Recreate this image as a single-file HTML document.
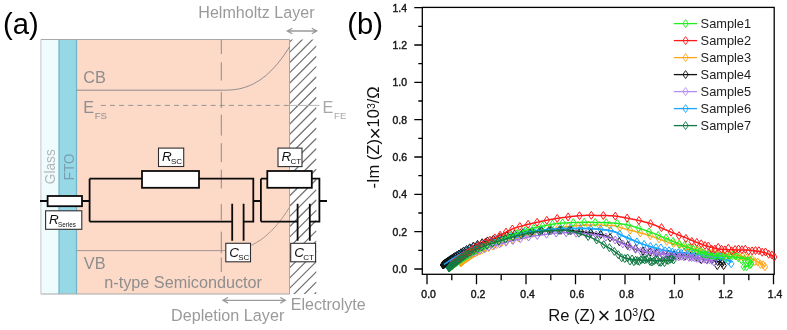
<!DOCTYPE html>
<html><head><meta charset="utf-8"><title>Figure</title>
<style>
html,body{margin:0;padding:0;background:#fff;}
body{width:787px;height:330px;overflow:hidden;}
svg{display:block;filter:blur(0.45px);font-family:"Liberation Sans",sans-serif;}
</style></head><body>
<svg width="787" height="330" viewBox="0 0 787 330">
<rect x="0" y="0" width="787" height="330" fill="#fff"/>
<g id="panel-a">
<rect x="40.9" y="39.5" width="18.1" height="254.5" fill="#effcfe"/>
<rect x="59" y="39.5" width="17.5" height="254.5" fill="#97d8e7"/>
<rect x="76.5" y="39.5" width="213.0" height="254.5" fill="#fdd9c8"/>
<clipPath id="hc"><rect x="289.5" y="39.5" width="27.0" height="254.5"/></clipPath>
<path d="M289.5 21.6L316.5 -5.4M289.5 31.9L316.5 4.9M289.5 42.1L316.5 15.1M289.5 52.4L316.5 25.4M289.5 62.7L316.5 35.7M289.5 72.9L316.5 45.9M289.5 83.2L316.5 56.2M289.5 93.4L316.5 66.4M289.5 103.7L316.5 76.7M289.5 114.0L316.5 87.0M289.5 124.2L316.5 97.2M289.5 134.5L316.5 107.5M289.5 144.7L316.5 117.7M289.5 155.0L316.5 128.0M289.5 165.3L316.5 138.3M289.5 175.5L316.5 148.5M289.5 185.8L316.5 158.8M289.5 196.0L316.5 169.0M289.5 206.3L316.5 179.3M289.5 216.6L316.5 189.6M289.5 226.8L316.5 199.8M289.5 237.1L316.5 210.1M289.5 247.3L316.5 220.3M289.5 257.6L316.5 230.6M289.5 267.9L316.5 240.9M289.5 278.1L316.5 251.1M289.5 288.4L316.5 261.4M289.5 298.6L316.5 271.6M289.5 308.9L316.5 281.9M289.5 319.2L316.5 292.2" clip-path="url(#hc)" stroke="#747474" stroke-width="1.25" fill="none"/>
<path d="M40.9 39.5H289.5V294.0H40.9" fill="none" stroke="#a8a8a8" stroke-width="1"/>
<path d="M40.9 39.5V294.0" fill="none" stroke="#c2c6ca" stroke-width="1"/>
<path d="M59 39.5V294.0M76.5 39.5V294.0" fill="none" stroke="#6fb3c6" stroke-width="1.2"/>
<path d="M76.5 90.2H222L222.0 90.2L223.7 90.2L225.5 90.2L227.2 90.1L228.9 90.1L230.7 89.9L232.4 89.8L234.1 89.6L235.8 89.4L237.6 89.1L239.3 88.8L241.0 88.4L242.8 87.9L244.5 87.4L246.2 86.9L248.0 86.2L249.7 85.5L251.4 84.8L253.2 83.9L254.9 83.0L256.6 82.0L258.3 81.0L260.1 79.9L261.8 78.6L263.5 77.3L265.3 76.0L267.0 74.5L268.7 72.9L270.5 71.3L272.2 69.6L273.9 67.7L275.7 65.8L277.4 63.8L279.1 61.7L280.8 59.5L282.6 57.2L284.3 54.8L286.0 52.2L287.8 49.6L289.5 46.9" fill="none" stroke="#8c8c8c" stroke-width="1"/>
<path d="M76.5 250.6H222L222.0 250.6L223.7 250.6L225.5 250.6L227.2 250.5L228.9 250.5L230.7 250.3L232.4 250.2L234.1 250.0L235.8 249.8L237.6 249.5L239.3 249.2L241.0 248.8L242.8 248.3L244.5 247.8L246.2 247.3L248.0 246.6L249.7 245.9L251.4 245.2L253.2 244.3L254.9 243.4L256.6 242.4L258.3 241.4L260.1 240.3L261.8 239.0L263.5 237.7L265.3 236.4L267.0 234.9L268.7 233.3L270.5 231.7L272.2 230.0L273.9 228.1L275.7 226.2L277.4 224.2L279.1 222.1L280.8 219.9L282.6 217.6L284.3 215.2L286.0 212.6L287.8 210.0L289.5 207.3" fill="none" stroke="#9a8f8a" stroke-width="0.9"/>
<line x1="100.8" y1="105.4" x2="289.5" y2="105.4" stroke="#959595" stroke-width="1" stroke-dasharray="5 4.15"/>
<line x1="289.5" y1="105.4" x2="319.5" y2="105.4" stroke="#b5b5b5" stroke-width="1"/>
<path d="M221.3 39.6V54M221.3 62.3V80.6M221.3 92V108M221.3 114.7V135.6M221.3 143.2V162.2M221.3 169.7V188.4M221.3 204V220M221.3 231.7V253.4M221.3 257.3V272" stroke="#8c8c8c" stroke-width="1" fill="none"/>
<text x="198.3" y="17.8" font-size="16.3" fill="#9a9a9a" textLength="116.2" lengthAdjust="spacingAndGlyphs">Helmholtz Layer</text>
<text x="83.2" y="82.7" font-size="16.3" fill="#8e8e8e">CB</text>
<text x="83.2" y="113" font-size="16.3" fill="#8e8e8e">E<tspan font-size="9.6" dy="6" dx="0.6">FS</tspan></text>
<text x="322.6" y="113" font-size="16.3" fill="#a8a8a8">E<tspan font-size="9.6" dy="6" dx="0.6">FE</tspan></text>
<text x="83.8" y="268.8" font-size="16.3" fill="#8e8e8e">VB</text>
<text x="104.3" y="287.6" font-size="16.3" fill="#8e8e8e" textLength="157.7" lengthAdjust="spacingAndGlyphs">n-type Semiconductor</text>
<text x="171" y="321" font-size="16.3" fill="#9a9a9a" textLength="113.3" lengthAdjust="spacingAndGlyphs">Depletion Layer</text>
<text x="290.7" y="310.2" font-size="16.3" fill="#9a9a9a" textLength="75" lengthAdjust="spacingAndGlyphs">Electrolyte</text>
<text transform="translate(54.9 184.2) rotate(-90)" font-size="14.2" fill="#b2b7b9" textLength="35" lengthAdjust="spacingAndGlyphs">Glass</text>
<text transform="translate(73.5 180.2) rotate(-90)" font-size="14.2" fill="#789fae" textLength="26.6" lengthAdjust="spacingAndGlyphs">FTO</text>
<path d="M288.3 31H315.8M292.3 28.2L287.3 31L292.3 33.8M311.8 28.2L316.8 31L311.8 33.8" fill="none" stroke="#9a9a9a" stroke-width="1.3" stroke-linejoin="miter"/>
<path d="M224 300.3H284.3M228 297.5L223 300.3L228 303.1M280.3 297.5L285.3 300.3L280.3 303.1" fill="none" stroke="#9a9a9a" stroke-width="1.3" stroke-linejoin="miter"/>
<g fill="none" stroke="#0a0a0a" stroke-width="1.8" stroke-linejoin="miter">
<path d="M40 201H47.6M82 201H89.6M89.6 178.7V221.6M89.6 178.7H142M199 178.7H253.3V221.6H243.6M232.2 221.6H89.6M232.2 203.8V240.7M243.6 203.8V240.7M253.3 201H260.9M260.9 178.7V221.6M260.9 178.7H267.3M311.8 178.7H319.4V221.6H309.8M297.6 221.6H260.9M297.6 203.8V240.7M309.8 203.8V240.7M319.4 201H327"/>
<rect x="47.6" y="196" width="34.4" height="10.2" fill="#fff"/>
<rect x="142" y="171" width="57" height="16.8" fill="#fff"/>
<rect x="267.3" y="171" width="44.5" height="16.8" fill="#fff"/>
</g>
<rect x="158.5" y="148.1" width="25.2" height="18.4" fill="#fff" stroke="#2e2e2e" stroke-width="1.1"/>
<text x="162.0" y="161.3" font-size="13.5" font-style="italic" fill="#111">R<tspan font-style="normal" font-size="8" dy="3" dx="-0.8">SC</tspan></text>
<rect x="278" y="148.1" width="24" height="18.5" fill="#fff" stroke="#2e2e2e" stroke-width="1.1"/>
<text x="281.5" y="161.4" font-size="13.5" font-style="italic" fill="#111">R<tspan font-style="normal" font-size="8" dy="3" dx="-0.8">CT</tspan></text>
<rect x="45.6" y="210.8" width="36.2" height="18.5" fill="#fff" stroke="#2e2e2e" stroke-width="1.1"/>
<text x="49.1" y="224.10000000000002" font-size="13.5" font-style="italic" fill="#111">R<tspan font-style="normal" font-size="6.3" dy="3" dx="-0.8">Series</tspan></text>
<rect x="225.8" y="243.3" width="24.7" height="18.5" fill="#fff" stroke="#2e2e2e" stroke-width="1.1"/>
<text x="229.3" y="256.6" font-size="13.5" font-style="italic" fill="#111">C<tspan font-style="normal" font-size="8" dy="3" dx="-0.8">SC</tspan></text>
<rect x="290.7" y="243.3" width="24.9" height="18.5" fill="#fff" stroke="#2e2e2e" stroke-width="1.1"/>
<text x="294.2" y="256.6" font-size="13.5" font-style="italic" fill="#111">C<tspan font-style="normal" font-size="8" dy="3" dx="-0.8">CT</tspan></text>
</g>
<text x="3.1" y="33.6" font-size="29.2" fill="#000">(a)</text>
<text x="347.2" y="33.5" font-size="29.2" fill="#000">(b)</text>
<g id="panel-b">
<rect x="422.3" y="7.4" width="351.90000000000003" height="266.90000000000003" fill="#fff" stroke="#000" stroke-width="1.3"/>
<path d="M427.0 274.3V284.3M451.8 274.3V280.3M422.3 269.0H414.3M422.3 250.3H418.3M476.5 274.3V284.3M501.2 274.3V280.3M422.3 231.7H414.3M422.3 213.0H418.3M526.0 274.3V284.3M550.8 274.3V280.3M422.3 194.3H414.3M422.3 175.7H418.3M575.5 274.3V284.3M600.2 274.3V280.3M422.3 157.0H414.3M422.3 138.3H418.3M625.0 274.3V284.3M649.8 274.3V280.3M422.3 119.7H414.3M422.3 101.0H418.3M674.5 274.3V284.3M699.2 274.3V280.3M422.3 82.4H414.3M422.3 63.7H418.3M724.0 274.3V284.3M748.8 274.3V280.3M422.3 45.0H414.3M422.3 26.4H418.3M773.5 274.3V284.3M422.3 7.7H414.3" stroke="#000" stroke-width="1.3" fill="none"/>
<text x="428.6" y="298" font-size="10.6" text-anchor="middle" fill="#1a1a1a" stroke="#1a1a1a" stroke-width="0.45" textLength="14.5" lengthAdjust="spacingAndGlyphs">0.0</text>
<text x="407" y="272.8" font-size="10.6" text-anchor="end" fill="#1a1a1a" stroke="#1a1a1a" stroke-width="0.45" textLength="14.5" lengthAdjust="spacingAndGlyphs">0.0</text>
<text x="478.1" y="298" font-size="10.6" text-anchor="middle" fill="#1a1a1a" stroke="#1a1a1a" stroke-width="0.45" textLength="14.5" lengthAdjust="spacingAndGlyphs">0.2</text>
<text x="407" y="235.5" font-size="10.6" text-anchor="end" fill="#1a1a1a" stroke="#1a1a1a" stroke-width="0.45" textLength="14.5" lengthAdjust="spacingAndGlyphs">0.2</text>
<text x="527.6" y="298" font-size="10.6" text-anchor="middle" fill="#1a1a1a" stroke="#1a1a1a" stroke-width="0.45" textLength="14.5" lengthAdjust="spacingAndGlyphs">0.4</text>
<text x="407" y="198.1" font-size="10.6" text-anchor="end" fill="#1a1a1a" stroke="#1a1a1a" stroke-width="0.45" textLength="14.5" lengthAdjust="spacingAndGlyphs">0.4</text>
<text x="577.1" y="298" font-size="10.6" text-anchor="middle" fill="#1a1a1a" stroke="#1a1a1a" stroke-width="0.45" textLength="14.5" lengthAdjust="spacingAndGlyphs">0.6</text>
<text x="407" y="160.8" font-size="10.6" text-anchor="end" fill="#1a1a1a" stroke="#1a1a1a" stroke-width="0.45" textLength="14.5" lengthAdjust="spacingAndGlyphs">0.6</text>
<text x="626.6" y="298" font-size="10.6" text-anchor="middle" fill="#1a1a1a" stroke="#1a1a1a" stroke-width="0.45" textLength="14.5" lengthAdjust="spacingAndGlyphs">0.8</text>
<text x="407" y="123.5" font-size="10.6" text-anchor="end" fill="#1a1a1a" stroke="#1a1a1a" stroke-width="0.45" textLength="14.5" lengthAdjust="spacingAndGlyphs">0.8</text>
<text x="676.1" y="298" font-size="10.6" text-anchor="middle" fill="#1a1a1a" stroke="#1a1a1a" stroke-width="0.45" textLength="14.5" lengthAdjust="spacingAndGlyphs">1.0</text>
<text x="407" y="86.2" font-size="10.6" text-anchor="end" fill="#1a1a1a" stroke="#1a1a1a" stroke-width="0.45" textLength="14.5" lengthAdjust="spacingAndGlyphs">1.0</text>
<text x="725.6" y="298" font-size="10.6" text-anchor="middle" fill="#1a1a1a" stroke="#1a1a1a" stroke-width="0.45" textLength="14.5" lengthAdjust="spacingAndGlyphs">1.2</text>
<text x="407" y="48.8" font-size="10.6" text-anchor="end" fill="#1a1a1a" stroke="#1a1a1a" stroke-width="0.45" textLength="14.5" lengthAdjust="spacingAndGlyphs">1.2</text>
<text x="775.1" y="298" font-size="10.6" text-anchor="middle" fill="#1a1a1a" stroke="#1a1a1a" stroke-width="0.45" textLength="14.5" lengthAdjust="spacingAndGlyphs">1.4</text>
<text x="407" y="11.5" font-size="10.6" text-anchor="end" fill="#1a1a1a" stroke="#1a1a1a" stroke-width="0.45" textLength="14.5" lengthAdjust="spacingAndGlyphs">1.4</text>
<text x="548.2" y="320.5" font-size="16.6" fill="#111">Re (Z)<tspan dx="2.2" dy="2.6" font-size="22">×</tspan><tspan dx="3.6" dy="-2.6">10</tspan><tspan font-size="10.5" dy="-4.6">3</tspan><tspan dy="4.6">/Ω</tspan></text>
<text transform="translate(379.3 188.6) rotate(-90)" font-size="16.5" fill="#111">-Im (Z)<tspan dx="-0.3" dy="2.4" font-size="21">×</tspan><tspan dx="-0.3" dy="-2.4">10</tspan><tspan font-size="10.5" dy="-4.6">3</tspan><tspan dy="4.6">/Ω</tspan></text>
<path d="M460.5 262.8L461.1 262.3L461.8 261.8L462.4 261.3L463.0 260.8L463.7 260.3L464.3 259.9L465.0 259.4L465.6 258.9L466.3 258.4L466.9 258.0L467.6 257.5L468.3 257.1L468.9 256.7L469.6 256.2L470.3 255.8L471.0 255.4L471.7 255.0L472.3 254.6L473.0 254.3L473.7 253.9L474.4 253.5L475.1 253.2L475.8 252.8L476.5 252.5L477.3 252.1L478.0 251.8L478.7 251.5L479.4 251.2L480.2 250.8L480.9 250.5L481.6 250.2L482.4 249.9L483.1 249.6L483.8 249.3L484.6 249.0L485.3 248.7L486.1 248.4L486.8 248.1L487.6 247.9L488.3 247.6L489.1 247.3L489.8 247.0L490.6 246.7L491.4 246.5L492.1 246.2L492.9 245.9L493.6 245.7L494.4 245.4L495.1 245.1L495.9 244.9L496.6 244.6L497.4 244.3L498.1 244.1L498.9 243.8L499.7 243.6L500.4 243.3L501.2 243.1L501.9 242.8L502.7 242.6L503.4 242.3L504.2 242.1L505.0 241.9L505.7 241.6L506.5 241.4L507.3 241.1L508.0 240.9L508.8 240.7L509.5 240.5L510.3 240.2L511.1 240.0L511.8 239.8L512.6 239.5L513.4 239.3L514.1 239.1L514.9 238.8L515.7 238.6L516.4 238.4L517.2 238.1L517.9 237.9L518.7 237.6L519.5 237.4L520.2 237.1L521.0 236.9L521.7 236.6L522.5 236.4L523.3 236.1L524.0 235.9L524.8 235.7L525.5 235.4L526.3 235.2L527.1 234.9L527.8 234.7L528.6 234.4L529.4 234.2L530.1 234.0L530.9 233.7L531.6 233.5L532.4 233.3L533.2 233.1L533.9 232.9L534.7 232.6L535.5 232.4L536.2 232.2L537.0 232.0L537.8 231.9L538.6 231.7L539.3 231.5L540.1 231.3L540.9 231.1L541.7 231.0L542.4 230.8L543.2 230.6L544.0 230.5L544.8 230.3L545.6 230.2L546.3 230.0L547.1 229.8L547.9 229.7L548.7 229.5L549.5 229.4L550.3 229.2L551.1 229.1L551.8 229.0L552.6 228.8L553.4 228.7L554.2 228.5L555.0 228.4L555.8 228.3L556.6 228.2L557.4 228.0L558.2 227.9L558.9 227.8L559.7 227.7L560.5 227.6L561.3 227.5L562.1 227.4L562.9 227.3L563.7 227.2L564.5 227.1L565.3 227.0L566.1 226.9L566.8 226.8L567.6 226.7L568.4 226.6L569.2 226.5L570.0 226.4L570.8 226.3L571.6 226.2L572.4 226.1L573.2 226.0L574.0 225.9L574.8 225.8L575.6 225.8L576.4 225.7L577.2 225.6L578.0 225.5L578.8 225.4L579.5 225.4L580.3 225.3L581.1 225.3L581.9 225.2L582.7 225.2L583.5 225.1L584.3 225.1L585.1 225.0L585.9 225.0L586.7 225.0L587.5 225.0L588.3 225.0L589.1 225.0L589.9 225.0L590.7 225.0L591.5 225.0L592.3 225.0L593.1 225.0L593.9 225.0L594.7 225.0L595.5 225.0L596.3 225.1L597.1 225.1L597.9 225.1L598.7 225.1L599.5 225.1L600.3 225.1L601.1 225.1L601.9 225.2L602.7 225.2L603.5 225.2L604.3 225.2L605.1 225.3L605.9 225.3L606.7 225.3L607.5 225.3L608.3 225.4L609.1 225.4L609.9 225.4L610.7 225.4L611.4 225.5L612.2 225.5L613.0 225.6L613.8 225.7L614.6 225.8L615.3 226.0L616.1 226.2L616.9 226.4L617.6 226.6L618.4 226.8L619.2 227.1L620.0 227.3L620.7 227.6L621.5 227.9L622.3 228.1L623.0 228.3L623.8 228.5L624.6 228.8L625.3 229.0L626.1 229.2L626.9 229.4L627.7 229.6L628.4 229.8L629.2 230.0L630.0 230.2L630.8 230.4L631.5 230.5L632.3 230.7L633.1 230.9L633.8 231.1L634.6 231.3L635.4 231.5L636.2 231.8L636.9 232.0L637.7 232.2L638.5 232.4L639.2 232.6L640.0 232.8L640.8 233.0L641.6 233.2L642.3 233.4L643.1 233.6L643.9 233.8L644.6 234.1L645.4 234.3L646.2 234.5L646.9 234.7L647.7 235.0L648.4 235.2L649.2 235.4L650.0 235.7L650.7 235.9L651.5 236.2L652.2 236.4L653.0 236.7L653.7 236.9L654.5 237.2L655.2 237.5L656.0 237.7L656.7 238.0L657.5 238.3L658.2 238.6L659.0 238.9L659.7 239.1L660.5 239.4L661.2 239.7L662.0 240.0L662.7 240.3L663.5 240.5L664.2 240.8L665.0 241.1L665.7 241.4L666.5 241.6L667.2 241.9L668.0 242.2L668.7 242.4L669.5 242.7L670.3 242.9L671.0 243.2L671.8 243.4L672.5 243.6L673.3 243.8L674.1 244.1L674.8 244.3L675.6 244.5L676.4 244.7L677.1 244.9L677.9 245.1L678.7 245.3L679.5 245.5L680.2 245.7L681.0 245.9L681.8 246.1L682.6 246.2L683.3 246.4L684.1 246.6L684.9 246.8L685.7 247.0L686.4 247.2L687.2 247.3L688.0 247.5L688.8 247.7L689.5 247.9L690.3 248.1L691.1 248.3L691.9 248.5L692.6 248.7L693.4 248.9L694.2 249.1L695.0 249.3L695.7 249.5L696.5 249.7L697.3 249.9L698.0 250.1L698.8 250.4L699.6 250.6L700.3 250.9L701.1 251.2L701.8 251.4L702.6 251.7L703.4 252.0L704.1 252.2L704.9 252.5L705.6 252.7L706.4 252.9L707.2 253.1L708.0 253.3L708.7 253.4L709.5 253.5L710.3 253.5L711.1 253.6L711.9 253.7L712.6 253.7L713.4 253.8L714.2 253.8L715.0 253.9L715.8 253.9L716.6 254.0L717.4 254.0L718.2 254.0L719.0 254.1L719.8 254.1L720.6 254.1L721.4 254.2L722.2 254.2L723.0 254.2L723.8 254.2L724.6 254.3L725.4 254.3L726.2 254.3L727.0 254.4L727.8 254.4L728.6 254.5L729.4 254.5L730.2 254.6L731.0 254.6L731.8 254.7L732.6 254.8L733.4 254.8L734.2 254.9L735.0 255.0L735.8 255.1L736.6 255.3L737.3 255.4L738.1 255.5L738.9 255.7L739.7 255.8L740.5 256.0L741.3 256.2L742.1 256.3L742.8 256.5L743.6 256.7L744.4 256.9L745.2 257.0L745.9 257.2L746.7 257.4L747.5 257.6L748.2 257.9L749.0 258.1L749.8 258.3L750.5 258.6L751.3 258.9L752.0 259.1L752.8 259.4L753.5 259.7L754.2 260.0L755.0 260.4L755.7 260.7L756.4 261.1L757.1 261.5L757.8 261.8L758.5 262.2L759.2 262.6L759.9 263.0L760.6 263.4L761.3 263.8L761.9 264.3L762.6 264.7L763.2 265.2L763.8 265.7L764.4 266.2L765.0 266.8" fill="none" stroke="#ffa61a" stroke-width="1.5" stroke-linejoin="round"/>
<path d="M460.5 258.8L463.2 262.8L460.5 266.8L457.8 262.8ZM460.7 258.6L463.4 262.6L460.7 266.6L458.0 262.6ZM461.0 258.4L463.7 262.4L461.0 266.4L458.3 262.4ZM461.2 258.2L463.9 262.2L461.2 266.2L458.5 262.2ZM461.5 258.0L464.2 262.0L461.5 266.0L458.8 262.0ZM461.8 257.8L464.5 261.8L461.8 265.8L459.1 261.8ZM462.2 257.5L464.9 261.5L462.2 265.5L459.5 261.5ZM462.5 257.2L465.2 261.2L462.5 265.2L459.8 261.2ZM463.0 256.9L465.7 260.9L463.0 264.9L460.3 260.9ZM463.5 256.5L466.2 260.5L463.5 264.5L460.8 260.5ZM464.0 256.1L466.7 260.1L464.0 264.1L461.3 260.1ZM464.6 255.6L467.3 259.6L464.6 263.6L461.9 259.6ZM465.3 255.1L468.0 259.1L465.3 263.1L462.6 259.1ZM466.1 254.6L468.8 258.6L466.1 262.6L463.4 258.6ZM467.0 254.0L469.7 258.0L467.0 262.0L464.3 258.0ZM468.0 253.3L470.7 257.3L468.0 261.3L465.3 257.3ZM469.1 252.6L471.8 256.6L469.1 260.6L466.4 256.6ZM470.4 251.8L473.1 255.8L470.4 259.8L467.7 255.8ZM471.8 250.9L474.5 254.9L471.8 258.9L469.1 254.9ZM473.4 250.1L476.1 254.1L473.4 258.1L470.7 254.1ZM475.2 249.1L477.9 253.1L475.2 257.1L472.5 253.1ZM477.3 248.1L480.0 252.1L477.3 256.1L474.6 252.1ZM479.7 247.1L482.4 251.1L479.7 255.1L477.0 251.1ZM482.3 245.9L485.0 249.9L482.3 253.9L479.6 249.9ZM485.3 244.7L488.0 248.7L485.3 252.7L482.6 248.7ZM488.7 243.4L491.4 247.4L488.7 251.4L486.0 247.4ZM492.5 242.1L495.2 246.1L492.5 250.1L489.8 246.1ZM496.7 240.6L499.4 244.6L496.7 248.6L494.0 244.6ZM501.3 239.0L504.0 243.0L501.3 247.0L498.6 243.0ZM506.4 237.4L509.1 241.4L506.4 245.4L503.7 241.4ZM512.1 235.7L514.8 239.7L512.1 243.7L509.4 239.7ZM518.3 233.7L521.0 237.7L518.3 241.7L515.6 237.7ZM525.1 231.5L527.8 235.5L525.1 239.5L522.4 235.5ZM532.5 229.3L535.2 233.3L532.5 237.3L529.8 233.3ZM540.5 227.2L543.2 231.2L540.5 235.2L537.8 231.2ZM549.2 225.4L551.9 229.4L549.2 233.4L546.5 229.4ZM558.4 223.9L561.1 227.9L558.4 231.9L555.7 227.9ZM568.2 222.6L570.9 226.6L568.2 230.6L565.5 226.6ZM578.3 221.5L581.0 225.5L578.3 229.5L575.6 225.5ZM588.7 221.0L591.4 225.0L588.7 229.0L586.0 225.0ZM599.3 221.1L602.0 225.1L599.3 229.1L596.6 225.1ZM609.7 221.4L612.4 225.4L609.7 229.4L607.0 225.4ZM620.0 223.4L622.7 227.4L620.0 231.4L617.3 227.4ZM630.1 226.2L632.8 230.2L630.1 234.2L627.4 230.2ZM640.3 228.9L643.0 232.9L640.3 236.9L637.6 232.9ZM650.3 231.7L653.0 235.7L650.3 239.7L647.6 235.7ZM659.0 234.8L661.7 238.8L659.0 242.8L656.3 238.8ZM666.7 237.4L669.4 241.4L666.7 245.4L664.0 241.4ZM673.6 239.5L676.3 243.5L673.6 247.5L670.9 243.5ZM679.8 240.8L682.5 244.8L679.8 248.8L677.1 244.8ZM685.3 243.2L688.0 247.2L685.3 251.2L682.6 247.2ZM690.2 244.2L692.9 248.2L690.2 252.2L687.5 248.2ZM694.5 243.9L697.2 247.9L694.5 251.9L691.8 247.9ZM698.2 246.3L700.9 250.3L698.2 254.3L695.5 250.3ZM701.5 247.9L704.2 251.9L701.5 255.9L698.8 251.9ZM704.6 249.9L707.3 253.9L704.6 257.9L701.9 253.9ZM707.6 250.0L710.3 254.0L707.6 258.0L704.9 254.0ZM710.8 249.7L713.5 253.7L710.8 257.7L708.1 253.7ZM713.9 249.4L716.6 253.4L713.9 257.4L711.2 253.4ZM717.1 250.7L719.8 254.7L717.1 258.7L714.4 254.7ZM720.3 251.3L723.0 255.3L720.3 259.3L717.6 255.3ZM723.5 251.1L726.2 255.1L723.5 259.1L720.8 255.1ZM726.8 250.5L729.5 254.5L726.8 258.5L724.1 254.5ZM730.0 251.0L732.7 255.0L730.0 259.0L727.3 255.0ZM733.2 249.7L735.9 253.7L733.2 257.7L730.5 253.7ZM736.3 251.7L739.0 255.7L736.3 259.7L733.6 255.7ZM739.5 252.9L742.2 256.9L739.5 260.9L736.8 256.9ZM742.6 252.4L745.3 256.4L742.6 260.4L739.9 256.4ZM745.7 253.3L748.4 257.3L745.7 261.3L743.0 257.3ZM748.8 255.0L751.5 259.0L748.8 263.0L746.1 259.0ZM751.9 255.1L754.6 259.1L751.9 263.1L749.2 259.1ZM754.8 257.6L757.5 261.6L754.8 265.6L752.1 261.6ZM757.7 258.0L760.4 262.0L757.7 266.0L755.0 262.0ZM760.4 260.2L763.1 264.2L760.4 268.2L757.7 264.2ZM763.1 260.8L765.8 264.8L763.1 268.8L760.4 264.8ZM765.0 262.8L767.7 266.8L765.0 270.8L762.3 266.8Z" fill="none" stroke="#ffa61a" stroke-width="1.0"/>
<path d="M444.0 264.5L444.6 264.1L445.2 263.6L445.8 263.2L446.5 262.8L447.1 262.3L447.7 261.9L448.3 261.5L448.9 261.0L449.5 260.6L450.2 260.2L450.8 259.8L451.4 259.4L452.1 259.0L452.7 258.6L453.3 258.2L454.0 257.8L454.6 257.4L455.2 257.0L455.9 256.6L456.5 256.2L457.2 255.8L457.8 255.4L458.4 255.0L459.1 254.6L459.7 254.3L460.4 253.9L461.0 253.5L461.7 253.1L462.3 252.7L463.0 252.3L463.6 252.0L464.3 251.6L465.0 251.2L465.6 250.9L466.3 250.5L466.9 250.1L467.6 249.8L468.3 249.4L468.9 249.1L469.6 248.8L470.3 248.4L471.0 248.1L471.6 247.8L472.3 247.5L473.0 247.2L473.7 246.9L474.4 246.6L475.1 246.4L475.8 246.1L476.5 245.8L477.1 245.6L477.8 245.3L478.6 245.0L479.3 244.8L480.0 244.5L480.7 244.3L481.4 244.0L482.1 243.8L482.8 243.5L483.5 243.3L484.2 243.1L485.0 242.8L485.7 242.6L486.4 242.4L487.1 242.2L487.8 241.9L488.6 241.7L489.3 241.5L490.0 241.3L490.7 241.1L491.4 240.9L492.2 240.6L492.9 240.4L493.6 240.2L494.3 240.0L495.1 239.8L495.8 239.6L496.5 239.4L497.2 239.2L497.9 239.0L498.7 238.7L499.4 238.5L500.1 238.3L500.8 238.1L501.6 237.9L502.3 237.7L503.0 237.5L503.7 237.3L504.5 237.1L505.2 236.9L505.9 236.7L506.6 236.5L507.4 236.3L508.1 236.1L508.8 235.9L509.5 235.8L510.3 235.6L511.0 235.4L511.7 235.2L512.5 235.1L513.2 234.9L513.9 234.7L514.7 234.6L515.4 234.4L516.1 234.3L516.9 234.1L517.6 234.0L518.3 233.8L519.1 233.7L519.8 233.5L520.5 233.3L521.3 233.2L522.0 233.0L522.7 232.9L523.5 232.8L524.2 232.6L525.0 232.5L525.7 232.3L526.4 232.2L527.2 232.1L527.9 231.9L528.7 231.8L529.4 231.7L530.1 231.5L530.9 231.4L531.6 231.3L532.4 231.2L533.1 231.1L533.9 231.0L534.6 230.9L535.3 230.8L536.1 230.7L536.8 230.6L537.6 230.5L538.3 230.4L539.1 230.3L539.8 230.2L540.6 230.2L541.3 230.1L542.0 230.0L542.8 229.9L543.5 229.9L544.3 229.8L545.0 229.7L545.8 229.7L546.5 229.6L547.3 229.5L548.0 229.4L548.8 229.4L549.5 229.3L550.3 229.2L551.0 229.2L551.8 229.1L552.5 229.1L553.3 229.0L554.0 229.0L554.8 228.9L555.5 228.9L556.3 228.8L557.0 228.8L557.8 228.7L558.5 228.7L559.3 228.7L560.0 228.7L560.8 228.6L561.5 228.6L562.3 228.6L563.0 228.6L563.8 228.6L564.5 228.6L565.3 228.6L566.0 228.6L566.8 228.6L567.5 228.6L568.3 228.6L569.0 228.6L569.8 228.6L570.5 228.6L571.3 228.6L572.0 228.6L572.8 228.6L573.5 228.6L574.3 228.6L575.0 228.6L575.8 228.6L576.6 228.6L577.3 228.6L578.1 228.6L578.8 228.6L579.6 228.6L580.3 228.6L581.1 228.6L581.8 228.6L582.6 228.6L583.3 228.6L584.1 228.6L584.8 228.6L585.6 228.6L586.3 228.6L587.1 228.6L587.8 228.6L588.6 228.6L589.3 228.6L590.1 228.6L590.8 228.6L591.6 228.7L592.3 228.7L593.1 228.7L593.8 228.8L594.6 228.8L595.4 228.9L596.1 228.9L596.9 229.0L597.6 229.0L598.4 229.1L599.2 229.2L599.9 229.3L600.7 229.3L601.4 229.4L602.2 229.5L602.9 229.6L603.7 229.7L604.4 229.8L605.2 229.9L605.9 230.0L606.6 230.1L607.4 230.2L608.1 230.3L608.8 230.5L609.6 230.6L610.3 230.7L611.0 230.8L611.7 231.0L612.4 231.1L613.1 231.3L613.8 231.5L614.5 231.7L615.2 232.0L615.9 232.3L616.6 232.6L617.3 232.9L618.0 233.3L618.6 233.7L619.3 234.0L620.0 234.4L620.7 234.8L621.3 235.1L622.0 235.5L622.7 235.8L623.4 236.1L624.1 236.4L624.8 236.7L625.5 237.0L626.1 237.3L626.8 237.6L627.5 237.9L628.2 238.2L628.9 238.5L629.6 238.8L630.3 239.1L631.0 239.4L631.7 239.7L632.4 240.0L633.1 240.3L633.8 240.5L634.5 240.8L635.2 241.1L635.9 241.4L636.6 241.7L637.3 242.0L638.0 242.3L638.7 242.5L639.4 242.8L640.1 243.1L640.8 243.3L641.5 243.6L642.2 243.9L642.9 244.1L643.6 244.4L644.3 244.6L645.0 244.9L645.7 245.1L646.4 245.3L647.1 245.6L647.8 245.8L648.5 246.0L649.3 246.2L650.0 246.4L650.7 246.7L651.4 246.9L652.1 247.1L652.8 247.3L653.6 247.5L654.3 247.7L655.0 247.9L655.7 248.1L656.5 248.3L657.2 248.5L657.9 248.7L658.6 248.9L659.4 249.1L660.1 249.3L660.8 249.5L661.6 249.7L662.3 249.9L663.0 250.1L663.8 250.2L664.5 250.4L665.2 250.6L666.0 250.7L666.7 250.9L667.4 251.0L668.2 251.2L668.9 251.3L669.6 251.5L670.4 251.6L671.1 251.7L671.9 251.9L672.6 252.0L673.3 252.1L674.1 252.2L674.8 252.3L675.6 252.4L676.3 252.5L677.0 252.6L677.8 252.7L678.5 252.7L679.3 252.8L680.0 252.9L680.8 253.0L681.5 253.0L682.3 253.1L683.0 253.2L683.8 253.3L684.5 253.3L685.3 253.4L686.0 253.5L686.8 253.5L687.5 253.6L688.3 253.7L689.0 253.7L689.8 253.8L690.5 253.9L691.3 254.0L692.0 254.0L692.8 254.1L693.5 254.2L694.2 254.3L695.0 254.4L695.7 254.4L696.5 254.5L697.2 254.6L698.0 254.7L698.7 254.8L699.5 254.9L700.2 255.0L701.0 255.1L701.7 255.2L702.4 255.3L703.2 255.4L703.9 255.5L704.7 255.6L705.4 255.7L706.2 255.9L706.9 256.0L707.6 256.1L708.4 256.2L709.1 256.3L709.9 256.4L710.6 256.6L711.4 256.7L712.1 256.8L712.8 256.9L713.6 257.1L714.3 257.2L715.1 257.3L715.8 257.4L716.5 257.6L717.3 257.7L718.0 257.8L718.8 258.0L719.5 258.1L720.3 258.2L721.0 258.4L721.7 258.5L722.5 258.7L723.2 258.9L723.9 259.0L724.7 259.2L725.4 259.4L726.1 259.6L726.8 259.9L727.5 260.1L728.1 260.4L728.8 260.8L729.5 261.1L730.2 261.5L730.8 261.8L731.5 262.2" fill="none" stroke="#1aa7ff" stroke-width="1.5" stroke-linejoin="round"/>
<path d="M444.0 260.5L446.7 264.5L444.0 268.5L441.3 264.5ZM444.2 260.3L446.9 264.3L444.2 268.3L441.5 264.3ZM444.5 260.1L447.2 264.1L444.5 268.1L441.8 264.1ZM444.7 260.0L447.4 264.0L444.7 268.0L442.0 264.0ZM445.0 259.8L447.7 263.8L445.0 267.8L442.3 263.8ZM445.3 259.6L448.0 263.6L445.3 267.6L442.6 263.6ZM445.6 259.3L448.3 263.3L445.6 267.3L442.9 263.3ZM446.0 259.1L448.7 263.1L446.0 267.1L443.3 263.1ZM446.4 258.8L449.1 262.8L446.4 266.8L443.7 262.8ZM446.8 258.5L449.5 262.5L446.8 266.5L444.1 262.5ZM447.4 258.1L450.1 262.1L447.4 266.1L444.7 262.1ZM447.9 257.7L450.6 261.7L447.9 265.7L445.2 261.7ZM448.5 257.3L451.2 261.3L448.5 265.3L445.8 261.3ZM449.2 256.8L451.9 260.8L449.2 264.8L446.5 260.8ZM450.0 256.3L452.7 260.3L450.0 264.3L447.3 260.3ZM450.9 255.7L453.6 259.7L450.9 263.7L448.2 259.7ZM451.9 255.1L454.6 259.1L451.9 263.1L449.2 259.1ZM452.9 254.4L455.6 258.4L452.9 262.4L450.2 258.4ZM454.1 253.6L456.8 257.6L454.1 261.6L451.4 257.6ZM455.5 252.8L458.2 256.8L455.5 260.8L452.8 256.8ZM457.0 251.9L459.7 255.9L457.0 259.9L454.3 255.9ZM458.7 250.9L461.4 254.9L458.7 258.9L456.0 254.9ZM460.6 249.8L463.3 253.8L460.6 257.8L457.9 253.8ZM462.7 248.5L465.4 252.5L462.7 256.5L460.0 252.5ZM465.0 247.2L467.7 251.2L465.0 255.2L462.3 251.2ZM467.6 245.8L470.3 249.8L467.6 253.8L464.9 249.8ZM470.5 244.3L473.2 248.3L470.5 252.3L467.8 248.3ZM473.8 242.9L476.5 246.9L473.8 250.9L471.1 246.9ZM477.5 241.4L480.2 245.4L477.5 249.4L474.8 245.4ZM481.6 239.9L484.3 243.9L481.6 247.9L478.9 243.9ZM486.2 238.4L488.9 242.4L486.2 246.4L483.5 242.4ZM491.3 236.9L494.0 240.9L491.3 244.9L488.6 240.9ZM496.9 235.3L499.6 239.3L496.9 243.3L494.2 239.3ZM503.0 233.5L505.7 237.5L503.0 241.5L500.3 237.5ZM509.6 231.7L512.3 235.7L509.6 239.7L506.9 235.7ZM516.8 230.1L519.5 234.1L516.8 238.1L514.1 234.1ZM524.6 228.5L527.3 232.5L524.6 236.5L521.9 232.5ZM532.9 227.1L535.6 231.1L532.9 235.1L530.2 231.1ZM541.7 226.1L544.4 230.1L541.7 234.1L539.0 230.1ZM551.0 225.2L553.7 229.2L551.0 233.2L548.3 229.2ZM560.7 224.6L563.4 228.6L560.7 232.6L558.0 228.6ZM570.5 224.6L573.2 228.6L570.5 232.6L567.8 228.6ZM580.5 224.6L583.2 228.6L580.5 232.6L577.8 228.6ZM590.5 224.6L593.2 228.6L590.5 232.6L587.8 228.6ZM600.6 225.3L603.3 229.3L600.6 233.3L597.9 229.3ZM610.5 226.7L613.2 230.7L610.5 234.7L607.8 230.7ZM619.7 230.2L622.4 234.2L619.7 238.2L617.0 234.2ZM628.8 234.5L631.5 238.5L628.8 242.5L626.1 238.5ZM636.9 237.9L639.6 241.9L636.9 245.9L634.2 241.9ZM644.1 240.4L646.8 244.4L644.1 248.4L641.4 244.4ZM650.4 242.5L653.1 246.5L650.4 250.5L647.7 246.5ZM656.0 243.5L658.7 247.5L656.0 251.5L653.3 247.5ZM660.9 243.9L663.6 247.9L660.9 251.9L658.2 247.9ZM665.2 246.8L667.9 250.8L665.2 254.8L662.5 250.8ZM669.0 246.7L671.7 250.7L669.0 254.7L666.3 250.7ZM672.3 248.2L675.0 252.2L672.3 256.2L669.6 252.2ZM675.3 249.1L678.0 253.1L675.3 257.1L672.6 253.1ZM678.3 248.7L681.0 252.7L678.3 256.7L675.6 252.7ZM681.2 249.2L683.9 253.2L681.2 257.2L678.5 253.2ZM684.2 248.1L686.9 252.1L684.2 256.1L681.5 252.1ZM687.2 250.2L689.9 254.2L687.2 258.2L684.5 254.2ZM690.2 248.5L692.9 252.5L690.2 256.5L687.5 252.5ZM693.2 249.8L695.9 253.8L693.2 257.8L690.5 253.8ZM696.2 249.7L698.9 253.7L696.2 257.7L693.5 253.7ZM699.2 250.9L701.9 254.9L699.2 258.9L696.5 254.9ZM702.1 251.2L704.8 255.2L702.1 259.2L699.4 255.2ZM705.1 250.5L707.8 254.5L705.1 258.5L702.4 254.5ZM708.1 251.7L710.8 255.7L708.1 259.7L705.4 255.7ZM711.0 251.5L713.7 255.5L711.0 259.5L708.3 255.5ZM714.0 252.6L716.7 256.6L714.0 260.6L711.3 256.6ZM717.0 253.9L719.7 257.9L717.0 261.9L714.3 257.9ZM719.9 252.9L722.6 256.9L719.9 260.9L717.2 256.9ZM722.9 256.1L725.6 260.1L722.9 264.1L720.2 260.1ZM725.8 255.1L728.5 259.1L725.8 263.1L723.1 259.1ZM728.5 257.1L731.2 261.1L728.5 265.1L725.8 261.1ZM731.2 259.8L733.9 263.8L731.2 267.8L728.5 263.8Z" fill="none" stroke="#1aa7ff" stroke-width="1.0"/>
<path d="M443.0 265.0L443.6 264.5L444.2 264.1L444.8 263.7L445.4 263.2L445.9 262.8L446.5 262.3L447.1 261.9L447.7 261.5L448.3 261.0L448.9 260.6L449.5 260.2L450.1 259.8L450.7 259.3L451.3 258.9L451.9 258.5L452.6 258.1L453.2 257.7L453.8 257.3L454.4 256.9L455.0 256.5L455.6 256.1L456.3 255.7L456.9 255.3L457.5 254.9L458.1 254.5L458.8 254.1L459.4 253.7L460.0 253.3L460.6 252.9L461.3 252.5L461.9 252.2L462.5 251.8L463.2 251.4L463.8 251.0L464.4 250.6L465.1 250.3L465.7 249.9L466.4 249.5L467.0 249.2L467.7 248.8L468.3 248.5L469.0 248.1L469.6 247.8L470.3 247.5L470.9 247.2L471.6 246.8L472.3 246.5L472.9 246.2L473.6 246.0L474.3 245.7L474.9 245.4L475.6 245.1L476.3 244.9L477.0 244.6L477.7 244.3L478.3 244.1L479.0 243.8L479.7 243.6L480.4 243.3L481.1 243.1L481.8 242.8L482.5 242.6L483.2 242.3L483.9 242.1L484.6 241.9L485.3 241.7L486.0 241.4L486.7 241.2L487.4 241.0L488.1 240.8L488.8 240.5L489.6 240.3L490.3 240.1L491.0 239.9L491.7 239.7L492.4 239.5L493.1 239.3L493.8 239.1L494.5 238.9L495.2 238.7L496.0 238.5L496.7 238.3L497.4 238.1L498.1 237.9L498.8 237.7L499.5 237.5L500.2 237.4L500.9 237.2L501.6 237.0L502.4 236.8L503.1 236.6L503.8 236.4L504.5 236.2L505.2 236.1L505.9 235.9L506.7 235.7L507.4 235.5L508.1 235.4L508.8 235.2L509.5 235.1L510.2 234.9L511.0 234.8L511.7 234.6L512.4 234.5L513.1 234.3L513.9 234.2L514.6 234.1L515.3 233.9L516.0 233.8L516.8 233.7L517.5 233.6L518.2 233.5L518.9 233.4L519.7 233.2L520.4 233.1L521.1 233.0L521.8 232.9L522.6 232.8L523.3 232.7L524.0 232.6L524.8 232.5L525.5 232.4L526.2 232.2L527.0 232.1L527.7 232.1L528.4 232.0L529.2 231.9L529.9 231.8L530.6 231.7L531.4 231.6L532.1 231.5L532.8 231.5L533.6 231.4L534.3 231.3L535.0 231.3L535.8 231.2L536.5 231.1L537.2 231.1L538.0 231.1L538.7 231.0L539.4 231.0L540.2 230.9L540.9 230.9L541.6 230.9L542.4 230.8L543.1 230.8L543.8 230.8L544.6 230.8L545.3 230.7L546.0 230.7L546.8 230.7L547.5 230.6L548.2 230.6L549.0 230.6L549.7 230.6L550.5 230.5L551.2 230.5L551.9 230.5L552.7 230.5L553.4 230.4L554.1 230.4L554.9 230.4L555.6 230.4L556.4 230.4L557.1 230.4L557.8 230.3L558.6 230.3L559.3 230.3L560.0 230.3L560.8 230.3L561.5 230.3L562.2 230.3L563.0 230.3L563.7 230.3L564.4 230.3L565.2 230.3L565.9 230.3L566.7 230.4L567.4 230.4L568.1 230.4L568.9 230.5L569.6 230.5L570.3 230.6L571.1 230.6L571.8 230.7L572.5 230.7L573.3 230.8L574.0 230.9L574.7 230.9L575.5 231.0L576.2 231.1L576.9 231.2L577.7 231.2L578.4 231.3L579.1 231.4L579.9 231.5L580.6 231.6L581.3 231.7L582.1 231.8L582.8 231.9L583.5 231.9L584.3 232.0L585.0 232.1L585.7 232.2L586.5 232.3L587.2 232.4L587.9 232.5L588.6 232.6L589.4 232.7L590.1 232.8L590.8 232.9L591.6 233.0L592.3 233.1L593.0 233.2L593.8 233.3L594.5 233.4L595.2 233.5L596.0 233.6L596.7 233.7L597.4 233.9L598.2 234.0L598.9 234.1L599.6 234.3L600.3 234.4L601.1 234.6L601.8 234.7L602.5 234.9L603.2 235.0L603.9 235.2L604.6 235.4L605.3 235.6L606.0 235.9L606.6 236.1L607.3 236.4L608.0 236.7L608.7 237.0L609.3 237.3L610.0 237.6L610.7 238.0L611.4 238.3L612.0 238.6L612.7 238.9L613.4 239.2L614.0 239.5L614.7 239.8L615.4 240.1L616.1 240.4L616.8 240.7L617.4 241.0L618.1 241.3L618.8 241.6L619.5 241.9L620.1 242.2L620.8 242.5L621.5 242.8L622.2 243.0L622.8 243.3L623.5 243.6L624.2 243.9L624.9 244.2L625.5 244.5L626.2 244.8L626.9 245.1L627.6 245.4L628.3 245.7L628.9 246.0L629.6 246.3L630.3 246.6L630.9 247.0L631.6 247.3L632.3 247.6L633.0 247.9L633.6 248.2L634.3 248.5L635.0 248.8L635.7 249.1L636.4 249.3L637.0 249.6L637.7 249.8L638.4 250.1L639.1 250.3L639.8 250.5L640.5 250.6L641.2 250.8L641.9 251.0L642.7 251.1L643.4 251.3L644.1 251.4L644.8 251.6L645.5 251.7L646.2 251.8L647.0 252.0L647.7 252.1L648.4 252.2L649.2 252.3L649.9 252.5L650.6 252.6L651.4 252.7L652.1 252.8L652.8 252.9L653.6 253.0L654.3 253.1L655.0 253.2L655.8 253.3L656.5 253.4L657.2 253.5L658.0 253.6L658.7 253.7L659.4 253.7L660.2 253.8L660.9 253.9L661.6 254.0L662.4 254.0L663.1 254.1L663.8 254.2L664.6 254.2L665.3 254.3L666.0 254.4L666.8 254.4L667.5 254.5L668.2 254.5L669.0 254.6L669.7 254.6L670.4 254.7L671.2 254.8L671.9 254.8L672.6 254.9L673.4 254.9L674.1 255.0L674.8 255.1L675.6 255.2L676.3 255.2L677.0 255.3L677.8 255.4L678.5 255.5L679.2 255.6L680.0 255.7L680.7 255.7L681.4 255.8L682.1 255.9L682.9 256.0L683.6 256.1L684.3 256.2L685.1 256.3L685.8 256.4L686.5 256.5L687.3 256.6L688.0 256.7L688.7 256.8L689.4 256.9L690.2 257.0L690.9 257.1L691.6 257.2L692.4 257.3L693.1 257.4L693.8 257.5L694.6 257.6L695.3 257.7L696.0 257.9L696.7 258.0L697.5 258.1L698.2 258.2L698.9 258.3L699.6 258.4L700.4 258.6L701.1 258.7L701.8 258.8L702.5 259.0L703.3 259.2L704.0 259.3L704.7 259.5L705.4 259.6L706.1 259.8L706.8 260.0L707.6 260.1L708.3 260.3L709.0 260.4L709.7 260.6L710.5 260.7L711.2 260.9L711.9 261.0L712.6 261.1L713.4 261.2L714.2 261.3L714.9 261.3L715.7 261.4L716.5 261.5L717.2 261.5L717.9 261.6L718.7 261.7L719.3 261.8L719.9 262.0L720.5 262.2L721.1 262.6L721.7 263.1L722.2 263.6L722.7 264.2L723.1 264.9L723.6 265.6" fill="none" stroke="#111111" stroke-width="1.5" stroke-linejoin="round"/>
<path d="M443.0 261.0L445.7 265.0L443.0 269.0L440.3 265.0ZM443.2 260.8L445.9 264.8L443.2 268.8L440.5 264.8ZM443.5 260.6L446.2 264.6L443.5 268.6L440.8 264.6ZM443.7 260.4L446.4 264.4L443.7 268.4L441.0 264.4ZM444.0 260.2L446.7 264.2L444.0 268.2L441.3 264.2ZM444.3 260.0L447.0 264.0L444.3 268.0L441.6 264.0ZM444.7 259.7L447.4 263.7L444.7 267.7L442.0 263.7ZM445.1 259.4L447.8 263.4L445.1 267.4L442.4 263.4ZM445.6 259.0L448.3 263.0L445.6 267.0L442.9 263.0ZM446.1 258.6L448.8 262.6L446.1 266.6L443.4 262.6ZM446.7 258.2L449.4 262.2L446.7 266.2L444.0 262.2ZM447.4 257.7L450.1 261.7L447.4 265.7L444.7 261.7ZM448.1 257.2L450.8 261.2L448.1 265.2L445.4 261.2ZM449.0 256.6L451.7 260.6L449.0 264.6L446.3 260.6ZM449.9 255.9L452.6 259.9L449.9 263.9L447.2 259.9ZM451.0 255.1L453.7 259.1L451.0 263.1L448.3 259.1ZM452.2 254.3L454.9 258.3L452.2 262.3L449.5 258.3ZM453.6 253.4L456.3 257.4L453.6 261.4L450.9 257.4ZM455.1 252.4L457.8 256.4L455.1 260.4L452.4 256.4ZM456.9 251.3L459.6 255.3L456.9 259.3L454.2 255.3ZM458.9 250.0L461.6 254.0L458.9 258.0L456.2 254.0ZM461.1 248.6L463.8 252.6L461.1 256.6L458.4 252.6ZM463.6 247.1L466.3 251.1L463.6 255.1L460.9 251.1ZM466.5 245.5L469.2 249.5L466.5 253.5L463.8 249.5ZM469.7 243.8L472.4 247.8L469.7 251.8L467.0 247.8ZM473.4 242.1L476.1 246.1L473.4 250.1L470.7 246.1ZM477.5 240.4L480.2 244.4L477.5 248.4L474.8 244.4ZM482.2 238.7L484.9 242.7L482.2 246.7L479.5 242.7ZM487.5 236.9L490.2 240.9L487.5 244.9L484.8 240.9ZM493.4 235.2L496.1 239.2L493.4 243.2L490.7 239.2ZM499.9 233.4L502.6 237.4L499.9 241.4L497.2 237.4ZM507.0 231.6L509.7 235.6L507.0 239.6L504.3 235.6ZM514.7 230.1L517.4 234.1L514.7 238.1L512.0 234.1ZM523.0 228.7L525.7 232.7L523.0 236.7L520.3 232.7ZM531.9 227.5L534.6 231.5L531.9 235.5L529.2 231.5ZM541.3 226.9L544.0 230.9L541.3 234.9L538.6 230.9ZM551.0 226.5L553.7 230.5L551.0 234.5L548.3 230.5ZM561.0 226.3L563.7 230.3L561.0 234.3L558.3 230.3ZM570.9 226.6L573.6 230.6L570.9 234.6L568.2 230.6ZM580.9 227.6L583.6 231.6L580.9 235.6L578.2 231.6ZM590.8 228.9L593.5 232.9L590.8 236.9L588.1 232.9ZM600.7 230.5L603.4 234.5L600.7 238.5L598.0 234.5ZM610.1 233.7L612.8 237.7L610.1 241.7L607.4 237.7ZM619.3 237.7L622.0 241.7L619.3 245.7L616.6 241.7ZM627.7 241.5L630.4 245.5L627.7 249.5L625.0 245.5ZM635.5 244.7L638.2 248.7L635.5 252.7L632.8 248.7ZM643.0 247.1L645.7 251.1L643.0 255.1L640.3 251.1ZM650.1 248.0L652.8 252.0L650.1 256.0L647.4 252.0ZM656.8 248.9L659.5 252.9L656.8 256.9L654.1 252.9ZM662.9 251.5L665.6 255.5L662.9 259.5L660.2 255.5ZM668.6 250.0L671.3 254.0L668.6 258.0L665.9 254.0ZM674.0 250.9L676.7 254.9L674.0 258.9L671.3 254.9ZM679.5 251.8L682.2 255.8L679.5 259.8L676.8 255.8ZM685.0 252.2L687.7 256.2L685.0 260.2L682.3 256.2ZM690.4 252.3L693.1 256.3L690.4 260.3L687.7 256.3ZM695.9 253.1L698.6 257.1L695.9 261.1L693.2 257.1ZM701.3 255.7L704.0 259.7L701.3 263.7L698.6 259.7ZM706.7 255.7L709.4 259.7L706.7 263.7L704.0 259.7ZM712.0 255.6L714.7 259.6L712.0 263.6L709.3 259.6ZM717.7 257.6L720.4 261.6L717.7 265.6L715.0 261.6ZM722.2 259.2L724.9 263.2L722.2 267.2L719.5 263.2ZM723.6 261.6L726.3 265.6L723.6 269.6L720.9 265.6ZM717.3 261.6L720.0 265.6L717.3 269.6L714.6 265.6Z" fill="none" stroke="#111111" stroke-width="1.0"/>
<path d="M444.0 264.5L444.6 264.1L445.2 263.6L445.8 263.2L446.5 262.8L447.1 262.3L447.7 261.9L448.3 261.5L448.9 261.0L449.5 260.6L450.2 260.2L450.8 259.8L451.4 259.4L452.1 259.0L452.7 258.6L453.3 258.2L454.0 257.8L454.6 257.4L455.2 257.0L455.9 256.6L456.5 256.2L457.2 255.8L457.8 255.4L458.4 255.0L459.1 254.6L459.7 254.3L460.4 253.9L461.0 253.5L461.7 253.1L462.3 252.7L463.0 252.3L463.6 252.0L464.3 251.6L465.0 251.2L465.6 250.9L466.3 250.5L466.9 250.1L467.6 249.8L468.3 249.4L468.9 249.1L469.6 248.8L470.3 248.4L471.0 248.1L471.6 247.8L472.3 247.5L473.0 247.2L473.7 246.9L474.4 246.6L475.1 246.4L475.8 246.1L476.5 245.8L477.1 245.6L477.8 245.3L478.6 245.0L479.3 244.8L480.0 244.5L480.7 244.3L481.4 244.0L482.1 243.8L482.8 243.5L483.5 243.3L484.2 243.1L485.0 242.8L485.7 242.6L486.4 242.4L487.1 242.2L487.8 241.9L488.6 241.7L489.3 241.5L490.0 241.3L490.7 241.1L491.4 240.9L492.2 240.6L492.9 240.4L493.6 240.2L494.3 240.0L495.1 239.8L495.8 239.6L496.5 239.4L497.2 239.2L497.9 239.0L498.7 238.7L499.4 238.5L500.1 238.3L500.8 238.1L501.6 237.9L502.3 237.7L503.0 237.5L503.7 237.3L504.5 237.1L505.2 236.9L505.9 236.7L506.6 236.5L507.4 236.3L508.1 236.1L508.8 235.9L509.5 235.8L510.3 235.6L511.0 235.4L511.7 235.2L512.5 235.1L513.2 234.9L513.9 234.7L514.7 234.6L515.4 234.4L516.1 234.3L516.9 234.1L517.6 234.0L518.3 233.8L519.1 233.7L519.8 233.5L520.5 233.3L521.3 233.2L522.0 233.0L522.7 232.9L523.5 232.8L524.2 232.6L525.0 232.5L525.7 232.3L526.4 232.2L527.2 232.1L527.9 231.9L528.7 231.8L529.4 231.7L530.1 231.5L530.9 231.4L531.6 231.3L532.4 231.2L533.1 231.1L533.9 231.0L534.6 230.9L535.3 230.8L536.1 230.7L536.8 230.6L537.6 230.5L538.3 230.4L539.1 230.3L539.8 230.2L540.6 230.2L541.3 230.1L542.0 230.0L542.8 229.9L543.5 229.9L544.3 229.8L545.0 229.7L545.8 229.7L546.5 229.6L547.3 229.5L548.0 229.4L548.8 229.4L549.5 229.3L550.3 229.2L551.0 229.2L551.8 229.1L552.5 229.1L553.3 229.0L554.0 229.0L554.8 228.9L555.5 228.9L556.3 228.8L557.0 228.8L557.8 228.7L558.5 228.7L559.3 228.7L560.0 228.7L560.8 228.6L561.5 228.6L562.3 228.6L563.0 228.6L563.8 228.6L564.5 228.6L565.3 228.6L566.0 228.6L566.8 228.6L567.5 228.6L568.3 228.6L569.0 228.6L569.8 228.6L570.5 228.6L571.3 228.6L572.0 228.6L572.8 228.6L573.5 228.6L574.3 228.6L575.0 228.6L575.8 228.6L576.6 228.6L577.3 228.6L578.1 228.6L578.8 228.6L579.6 228.6L580.3 228.6L581.1 228.6L581.8 228.6L582.6 228.6L583.3 228.6L584.1 228.6L584.8 228.6L585.6 228.6L586.3 228.6L587.1 228.6L587.8 228.6L588.6 228.6L589.3 228.6L590.1 228.6L590.8 228.6L591.6 228.7L592.3 228.7L593.1 228.7L593.8 228.8L594.6 228.8L595.4 228.9L596.1 228.9L596.9 229.0L597.6 229.0L598.4 229.1L599.2 229.2L599.9 229.3L600.7 229.3L601.4 229.4L602.2 229.5L602.9 229.6L603.7 229.7L604.4 229.8L605.2 229.9L605.9 230.0L606.6 230.1L607.4 230.2L608.1 230.3L608.8 230.5L609.6 230.6L610.3 230.7L611.0 230.8L611.7 231.0L612.4 231.1L613.1 231.3L613.8 231.5L614.5 231.7L615.2 232.0L615.9 232.3L616.6 232.6L617.3 232.9L618.0 233.3L618.6 233.7L619.3 234.0L620.0 234.4L620.7 234.8L621.3 235.1L622.0 235.5L622.7 235.8L623.4 236.1L624.1 236.4L624.8 236.7L625.5 237.0L626.1 237.3L626.8 237.6L627.5 237.9L628.2 238.2L628.9 238.5L629.6 238.8L630.3 239.1L631.0 239.4L631.7 239.7L632.4 240.0L633.1 240.3L633.8 240.5L634.5 240.8L635.2 241.1L635.9 241.4L636.6 241.7L637.3 242.0L638.0 242.3L638.7 242.5L639.4 242.8L640.1 243.1L640.8 243.3L641.5 243.6L642.2 243.9L642.9 244.1L643.6 244.4L644.3 244.6L645.0 244.9L645.7 245.1L646.4 245.3L647.1 245.6L647.8 245.8L648.5 246.0L649.3 246.2L650.0 246.4L650.7 246.7L651.4 246.9L652.1 247.1L652.8 247.3L653.6 247.5L654.3 247.7L655.0 247.9L655.7 248.1L656.5 248.3L657.2 248.5L657.9 248.7L658.6 248.9L659.4 249.1L660.1 249.3L660.8 249.5L661.6 249.7L662.3 249.9L663.0 250.1L663.8 250.2L664.5 250.4L665.2 250.6L666.0 250.7L666.7 250.9L667.4 251.0L668.2 251.2L668.9 251.3L669.6 251.5L670.4 251.6L671.1 251.7L671.9 251.9L672.6 252.0L673.3 252.1L674.1 252.2L674.8 252.3L675.6 252.4L676.3 252.5L677.0 252.6L677.8 252.7L678.5 252.7L679.3 252.8L680.0 252.9L680.8 253.0L681.5 253.0L682.3 253.1L683.0 253.2L683.8 253.3L684.5 253.3L685.3 253.4L686.0 253.5L686.8 253.5L687.5 253.6L688.3 253.7L689.0 253.7L689.8 253.8L690.5 253.9L691.3 254.0L692.0 254.0L692.8 254.1L693.5 254.2L694.2 254.3L695.0 254.4L695.7 254.4L696.5 254.5L697.2 254.6L698.0 254.7L698.7 254.8L699.5 254.9L700.2 255.0L701.0 255.1L701.7 255.2L702.4 255.3L703.2 255.4L703.9 255.5L704.7 255.6L705.4 255.7L706.2 255.9L706.9 256.0L707.6 256.1L708.4 256.2L709.1 256.3L709.9 256.4L710.6 256.6L711.4 256.7L712.1 256.8L712.8 256.9L713.6 257.1L714.3 257.2L715.1 257.3L715.8 257.4L716.5 257.6L717.3 257.7L718.0 257.8L718.8 258.0L719.5 258.1L720.3 258.2L721.0 258.4L721.7 258.5L722.5 258.7L723.2 258.9L723.9 259.0L724.7 259.2L725.4 259.4L726.1 259.6L726.8 259.9L727.5 260.1L728.1 260.4L728.8 260.8L729.5 261.1L730.2 261.5L730.8 261.8L731.5 262.2" fill="none" stroke="#1aa7ff" stroke-width="1.5" stroke-linejoin="round"/>
<path d="M452.0 264.0L452.6 263.6L453.1 263.3L453.7 262.9L454.3 262.5L454.9 262.2L455.4 261.8L456.0 261.4L456.6 261.1L457.2 260.7L457.8 260.4L458.4 260.0L458.9 259.7L459.5 259.4L460.1 259.0L460.7 258.7L461.3 258.4L461.9 258.1L462.5 257.7L463.1 257.4L463.7 257.1L464.3 256.8L464.9 256.5L465.5 256.2L466.1 255.9L466.7 255.5L467.4 255.2L468.0 255.0L468.6 254.7L469.2 254.4L469.8 254.1L470.4 253.8L471.1 253.5L471.7 253.3L472.3 253.0L472.9 252.7L473.6 252.5L474.2 252.2L474.8 252.0L475.4 251.7L476.1 251.5L476.7 251.3L477.3 251.0L478.0 250.8L478.6 250.6L479.3 250.3L479.9 250.1L480.5 249.9L481.2 249.7L481.8 249.4L482.5 249.2L483.1 249.0L483.8 248.8L484.4 248.6L485.1 248.4L485.7 248.2L486.4 247.9L487.0 247.7L487.7 247.5L488.3 247.3L489.0 247.1L489.6 246.9L490.3 246.7L490.9 246.5L491.6 246.3L492.2 246.1L492.9 245.9L493.5 245.8L494.2 245.6L494.8 245.4L495.5 245.2L496.1 245.0L496.8 244.8L497.4 244.6L498.1 244.4L498.7 244.2L499.4 244.0L500.1 243.9L500.7 243.7L501.4 243.5L502.0 243.3L502.7 243.1L503.3 242.9L504.0 242.8L504.6 242.6L505.3 242.4L506.0 242.2L506.6 242.1L507.3 241.9L507.9 241.7L508.6 241.5L509.2 241.4L509.9 241.2L510.6 241.1L511.2 240.9L511.9 240.7L512.5 240.6L513.2 240.4L513.9 240.3L514.5 240.1L515.2 240.0L515.9 239.8L516.5 239.7L517.2 239.5L517.8 239.4L518.5 239.2L519.2 239.1L519.8 238.9L520.5 238.8L521.2 238.6L521.8 238.5L522.5 238.3L523.2 238.2L523.8 238.0L524.5 237.9L525.2 237.7L525.8 237.6L526.5 237.4L527.2 237.3L527.8 237.2L528.5 237.0L529.2 236.9L529.8 236.8L530.5 236.6L531.2 236.5L531.8 236.4L532.5 236.3L533.2 236.2L533.8 236.0L534.5 235.9L535.2 235.8L535.8 235.7L536.5 235.6L537.2 235.5L537.9 235.4L538.5 235.3L539.2 235.2L539.9 235.1L540.5 235.0L541.2 234.9L541.9 234.8L542.6 234.8L543.2 234.7L543.9 234.6L544.6 234.5L545.3 234.4L545.9 234.3L546.6 234.2L547.3 234.1L548.0 234.0L548.6 233.9L549.3 233.9L550.0 233.8L550.7 233.7L551.4 233.6L552.0 233.5L552.7 233.5L553.4 233.4L554.1 233.3L554.7 233.2L555.4 233.2L556.1 233.1L556.8 233.1L557.5 233.0L558.1 233.0L558.8 232.9L559.5 232.9L560.2 232.9L560.8 232.8L561.5 232.8L562.2 232.8L562.9 232.8L563.6 232.8L564.2 232.8L564.9 232.8L565.6 232.8L566.3 232.8L566.9 232.8L567.6 232.8L568.3 232.9L569.0 232.9L569.7 232.9L570.3 232.9L571.0 232.9L571.7 233.0L572.4 233.0L573.1 233.0L573.8 233.1L574.4 233.1L575.1 233.1L575.8 233.2L576.5 233.2L577.2 233.2L577.8 233.3L578.5 233.3L579.2 233.4L579.9 233.4L580.6 233.5L581.2 233.5L581.9 233.5L582.6 233.6L583.3 233.6L583.9 233.7L584.6 233.7L585.3 233.8L586.0 233.8L586.6 233.9L587.3 233.9L588.0 234.0L588.7 234.1L589.3 234.1L590.0 234.2L590.7 234.3L591.4 234.3L592.0 234.4L592.7 234.5L593.4 234.6L594.1 234.7L594.7 234.8L595.4 234.9L596.1 235.0L596.8 235.1L597.5 235.3L598.1 235.4L598.8 235.5L599.5 235.6L600.1 235.8L600.8 235.9L601.5 236.1L602.2 236.2L602.8 236.4L603.5 236.5L604.2 236.7L604.8 236.8L605.5 237.0L606.1 237.2L606.8 237.4L607.5 237.5L608.1 237.7L608.8 237.9L609.4 238.1L610.1 238.2L610.7 238.4L611.4 238.6L612.0 238.8L612.6 239.0L613.3 239.2L613.9 239.5L614.5 239.7L615.1 240.0L615.7 240.3L616.3 240.6L617.0 240.9L617.6 241.2L618.2 241.5L618.8 241.9L619.4 242.2L620.0 242.5L620.6 242.8L621.2 243.1L621.8 243.4L622.4 243.7L623.1 244.0L623.7 244.3L624.3 244.5L624.9 244.8L625.6 245.0L626.2 245.3L626.8 245.5L627.5 245.7L628.1 246.0L628.8 246.2L629.4 246.5L630.0 246.7L630.7 247.0L631.3 247.2L632.0 247.4L632.6 247.7L633.2 247.9L633.9 248.1L634.5 248.3L635.2 248.6L635.8 248.8L636.5 249.0L637.1 249.2L637.8 249.4L638.4 249.6L639.1 249.8L639.7 250.0L640.4 250.2L641.0 250.4L641.7 250.6L642.4 250.8L643.0 251.0L643.7 251.1L644.3 251.3L645.0 251.5L645.6 251.6L646.3 251.8L647.0 251.9L647.6 252.0L648.3 252.2L648.9 252.3L649.6 252.4L650.3 252.5L650.9 252.6L651.6 252.7L652.3 252.8L652.9 252.9L653.6 253.0L654.3 253.1L655.0 253.2L655.6 253.3L656.3 253.4L657.0 253.5L657.6 253.6L658.3 253.7L659.0 253.7L659.7 253.8L660.4 253.9L661.0 254.0L661.7 254.1L662.4 254.1L663.1 254.2L663.7 254.3L664.4 254.4L665.1 254.4L665.8 254.5L666.5 254.6L667.1 254.7L667.8 254.7L668.5 254.8L669.2 254.9L669.8 255.0L670.5 255.0L671.2 255.1L671.9 255.2L672.6 255.3L673.2 255.4L673.9 255.4L674.6 255.5L675.3 255.6L675.9 255.7L676.6 255.7L677.3 255.8L678.0 255.9L678.6 256.0L679.3 256.0L680.0 256.1L680.7 256.2L681.3 256.2L682.0 256.3L682.7 256.4L683.4 256.5L684.0 256.5L684.7 256.6L685.4 256.7L686.1 256.7L686.7 256.8L687.4 256.9L688.1 257.0L688.8 257.0L689.5 257.1L690.1 257.2L690.8 257.3L691.5 257.3L692.2 257.4L692.8 257.5L693.5 257.6L694.2 257.6L694.9 257.7L695.5 257.8L696.2 257.9L696.9 258.0L697.5 258.1L698.2 258.2L698.9 258.2L699.6 258.3L700.3 258.4L700.9 258.5L701.6 258.6L702.3 258.7L703.0 258.8L703.6 258.9L704.3 259.0L705.0 259.1L705.6 259.2L706.3 259.4L707.0 259.5L707.6 259.6L708.3 259.8L708.9 260.0L709.6 260.2L710.2 260.4L710.8 260.7L711.5 260.9L712.1 261.2L712.7 261.4L713.4 261.7L714.0 262.0" fill="none" stroke="#a677e6" stroke-width="1.5" stroke-linejoin="round"/>
<path d="M452.0 260.0L454.7 264.0L452.0 268.0L449.3 264.0ZM452.3 259.8L455.0 263.8L452.3 267.8L449.6 263.8ZM452.5 259.7L455.2 263.7L452.5 267.7L449.8 263.7ZM452.8 259.5L455.5 263.5L452.8 267.5L450.1 263.5ZM453.1 259.3L455.8 263.3L453.1 267.3L450.4 263.3ZM453.5 259.0L456.2 263.0L453.5 267.0L450.8 263.0ZM453.9 258.8L456.6 262.8L453.9 266.8L451.2 262.8ZM454.4 258.5L457.1 262.5L454.4 266.5L451.7 262.5ZM454.9 258.1L457.6 262.1L454.9 266.1L452.2 262.1ZM455.5 257.8L458.2 261.8L455.5 265.8L452.8 261.8ZM456.2 257.3L458.9 261.3L456.2 265.3L453.5 261.3ZM456.9 256.9L459.6 260.9L456.9 264.9L454.2 260.9ZM457.8 256.3L460.5 260.3L457.8 264.3L455.1 260.3ZM458.8 255.8L461.5 259.8L458.8 263.8L456.1 259.8ZM460.0 255.1L462.7 259.1L460.0 263.1L457.3 259.1ZM461.2 254.4L463.9 258.4L461.2 262.4L458.5 258.4ZM462.7 253.6L465.4 257.6L462.7 261.6L460.0 257.6ZM464.4 252.8L467.1 256.8L464.4 260.8L461.7 256.8ZM466.3 251.8L469.0 255.8L466.3 259.8L463.6 255.8ZM468.4 250.7L471.1 254.7L468.4 258.7L465.7 254.7ZM470.9 249.6L473.6 253.6L470.9 257.6L468.2 253.6ZM473.6 248.4L476.3 252.4L473.6 256.4L470.9 252.4ZM476.8 247.2L479.5 251.2L476.8 255.2L474.1 251.2ZM480.4 245.9L483.1 249.9L480.4 253.9L477.7 249.9ZM484.4 244.6L487.1 248.6L484.4 252.6L481.7 248.6ZM489.0 243.1L491.7 247.1L489.0 251.1L486.3 247.1ZM494.1 241.6L496.8 245.6L494.1 249.6L491.4 245.6ZM499.7 239.9L502.4 243.9L499.7 247.9L497.0 243.9ZM506.0 238.2L508.7 242.2L506.0 246.2L503.3 242.2ZM512.9 236.5L515.6 240.5L512.9 244.5L510.2 240.5ZM520.4 234.8L523.1 238.8L520.4 242.8L517.7 238.8ZM528.6 233.0L531.3 237.0L528.6 241.0L525.9 237.0ZM537.3 231.5L540.0 235.5L537.3 239.5L534.6 235.5ZM546.6 230.2L549.3 234.2L546.6 238.2L543.9 234.2ZM556.2 229.1L558.9 233.1L556.2 237.1L553.5 233.1ZM566.1 228.8L568.8 232.8L566.1 236.8L563.4 232.8ZM576.2 229.2L578.9 233.2L576.2 237.2L573.5 233.2ZM586.1 229.9L588.8 233.9L586.1 237.9L583.4 233.9ZM596.1 231.0L598.8 235.0L596.1 239.0L593.4 235.0ZM605.9 233.1L608.6 237.1L605.9 241.1L603.2 237.1ZM615.2 236.0L617.9 240.0L615.2 244.0L612.5 240.0ZM622.8 239.9L625.5 243.9L622.8 247.9L620.1 243.9ZM629.6 242.7L632.3 246.7L629.6 250.7L626.9 246.7ZM635.5 245.3L638.2 249.3L635.5 253.3L632.8 249.3ZM640.7 247.3L643.4 251.3L640.7 255.3L638.0 251.3ZM645.2 247.2L647.9 251.2L645.2 255.2L642.5 251.2ZM649.1 247.4L651.8 251.4L649.1 255.4L646.4 251.4ZM652.4 248.7L655.1 252.7L652.4 256.7L649.7 252.7ZM655.4 249.2L658.1 253.2L655.4 257.2L652.7 253.2ZM657.9 249.2L660.6 253.2L657.9 257.2L655.2 253.2ZM660.5 248.6L663.2 252.6L660.5 256.6L657.8 252.6ZM663.1 251.1L665.8 255.1L663.1 259.1L660.4 255.1ZM665.7 250.5L668.4 254.5L665.7 258.5L663.0 254.5ZM668.3 252.8L671.0 256.8L668.3 260.8L665.6 256.8ZM670.9 252.0L673.6 256.0L670.9 260.0L668.2 256.0ZM673.5 252.9L676.2 256.9L673.5 260.9L670.8 256.9ZM676.1 251.4L678.8 255.4L676.1 259.4L673.4 255.4ZM678.6 253.0L681.3 257.0L678.6 261.0L675.9 257.0ZM681.2 252.2L683.9 256.2L681.2 260.2L678.5 256.2ZM683.8 252.9L686.5 256.9L683.8 260.9L681.1 256.9ZM686.4 251.3L689.1 255.3L686.4 259.3L683.7 255.3ZM689.0 253.4L691.7 257.4L689.0 261.4L686.3 257.4ZM691.6 253.5L694.3 257.5L691.6 261.5L688.9 257.5ZM694.2 253.6L696.9 257.6L694.2 261.6L691.5 257.6ZM696.7 254.3L699.4 258.3L696.7 262.3L694.0 258.3ZM699.3 254.8L702.0 258.8L699.3 262.8L696.6 258.8ZM701.9 255.3L704.6 259.3L701.9 263.3L699.2 259.3ZM704.5 255.2L707.2 259.2L704.5 263.2L701.8 259.2ZM707.0 256.1L709.7 260.1L707.0 264.1L704.3 260.1ZM709.5 255.7L712.2 259.7L709.5 263.7L706.8 259.7ZM711.9 256.5L714.6 260.5L711.9 264.5L709.2 260.5ZM714.0 258.0L716.7 262.0L714.0 266.0L711.3 262.0Z" fill="none" stroke="#a677e6" stroke-width="1.0"/>
<path d="M450.0 267.0L450.7 266.5L451.3 266.0L452.0 265.5L452.7 265.1L453.3 264.6L454.0 264.1L454.7 263.6L455.4 263.2L456.0 262.7L456.7 262.2L457.4 261.8L458.1 261.3L458.7 260.8L459.4 260.4L460.1 259.9L460.8 259.5L461.5 259.0L462.2 258.6L462.9 258.1L463.5 257.6L464.2 257.2L464.9 256.7L465.6 256.3L466.3 255.8L467.0 255.4L467.7 254.9L468.4 254.5L469.1 254.1L469.8 253.6L470.5 253.2L471.2 252.8L471.9 252.4L472.6 252.0L473.3 251.6L474.1 251.2L474.8 250.8L475.5 250.4L476.2 250.1L477.0 249.7L477.7 249.3L478.4 249.0L479.2 248.6L479.9 248.3L480.7 247.9L481.4 247.6L482.2 247.2L482.9 246.9L483.7 246.5L484.4 246.2L485.2 245.8L485.9 245.5L486.7 245.2L487.4 244.8L488.2 244.5L488.9 244.2L489.7 243.9L490.5 243.5L491.2 243.2L492.0 242.9L492.7 242.6L493.5 242.3L494.3 242.0L495.0 241.6L495.8 241.3L496.5 241.0L497.3 240.7L498.1 240.4L498.8 240.1L499.6 239.8L500.4 239.5L501.1 239.2L501.9 238.9L502.6 238.5L503.4 238.2L504.2 237.9L504.9 237.6L505.7 237.4L506.5 237.1L507.3 236.8L508.0 236.5L508.8 236.2L509.6 235.9L510.3 235.6L511.1 235.3L511.9 235.1L512.7 234.8L513.4 234.5L514.2 234.3L515.0 234.0L515.8 233.7L516.6 233.5L517.3 233.2L518.1 232.9L518.9 232.7L519.7 232.4L520.5 232.1L521.2 231.9L522.0 231.6L522.8 231.4L523.6 231.1L524.4 230.8L525.2 230.6L526.0 230.3L526.7 230.1L527.5 229.8L528.3 229.6L529.1 229.3L529.9 229.1L530.7 228.9L531.5 228.6L532.3 228.4L533.1 228.2L533.9 228.0L534.6 227.8L535.4 227.6L536.2 227.4L537.0 227.2L537.8 227.0L538.6 226.8L539.4 226.7L540.2 226.5L541.0 226.3L541.8 226.2L542.6 226.0L543.5 225.9L544.3 225.7L545.1 225.5L545.9 225.4L546.7 225.2L547.5 225.1L548.3 224.9L549.1 224.8L549.9 224.6L550.8 224.5L551.6 224.4L552.4 224.2L553.2 224.1L554.0 224.0L554.8 223.9L555.7 223.7L556.5 223.6L557.3 223.5L558.1 223.4L558.9 223.3L559.7 223.3L560.6 223.2L561.4 223.1L562.2 223.1L563.0 223.0L563.8 223.0L564.7 222.9L565.5 222.9L566.3 222.9L567.1 222.8L567.9 222.8L568.8 222.8L569.6 222.7L570.4 222.7L571.2 222.7L572.0 222.6L572.9 222.6L573.7 222.6L574.5 222.5L575.3 222.5L576.2 222.5L577.0 222.5L577.8 222.4L578.6 222.4L579.5 222.4L580.3 222.4L581.1 222.4L581.9 222.4L582.8 222.3L583.6 222.3L584.4 222.3L585.2 222.3L586.0 222.3L586.9 222.3L587.7 222.3L588.5 222.3L589.3 222.3L590.2 222.3L591.0 222.3L591.8 222.3L592.6 222.3L593.4 222.3L594.3 222.4L595.1 222.4L595.9 222.4L596.7 222.4L597.6 222.4L598.4 222.5L599.2 222.5L600.0 222.5L600.9 222.5L601.7 222.6L602.5 222.6L603.3 222.6L604.1 222.6L605.0 222.7L605.8 222.7L606.6 222.8L607.4 222.8L608.3 222.8L609.1 222.9L609.9 222.9L610.7 222.9L611.5 223.0L612.4 223.0L613.2 223.1L614.0 223.1L614.8 223.2L615.6 223.3L616.5 223.3L617.3 223.4L618.1 223.5L618.9 223.6L619.8 223.7L620.6 223.8L621.4 223.9L622.2 224.0L623.0 224.2L623.8 224.3L624.6 224.4L625.4 224.5L626.2 224.7L627.0 224.8L627.8 225.0L628.6 225.2L629.4 225.4L630.2 225.6L631.0 225.8L631.8 226.0L632.6 226.2L633.4 226.4L634.2 226.7L635.0 226.9L635.8 227.2L636.6 227.4L637.3 227.7L638.1 227.9L638.9 228.2L639.7 228.5L640.5 228.7L641.3 229.0L642.1 229.3L642.8 229.5L643.6 229.8L644.4 230.1L645.2 230.4L646.0 230.6L646.7 230.9L647.5 231.2L648.3 231.4L649.1 231.7L649.8 232.0L650.6 232.2L651.4 232.5L652.2 232.8L652.9 233.1L653.7 233.4L654.5 233.7L655.2 234.0L656.0 234.3L656.7 234.6L657.5 234.9L658.3 235.2L659.0 235.6L659.8 235.9L660.5 236.2L661.3 236.5L662.1 236.8L662.8 237.2L663.6 237.5L664.3 237.8L665.1 238.1L665.9 238.5L666.6 238.8L667.4 239.1L668.1 239.4L668.9 239.7L669.7 240.0L670.4 240.4L671.2 240.7L671.9 241.0L672.7 241.3L673.5 241.6L674.2 241.9L675.0 242.2L675.8 242.5L676.5 242.8L677.3 243.1L678.1 243.4L678.8 243.7L679.6 244.0L680.4 244.3L681.1 244.6L681.9 244.9L682.7 245.1L683.4 245.4L684.2 245.7L685.0 246.0L685.8 246.3L686.5 246.6L687.3 246.9L688.1 247.2L688.8 247.5L689.6 247.8L690.4 248.1L691.1 248.4L691.9 248.6L692.7 248.9L693.5 249.2L694.2 249.5L695.0 249.8L695.8 250.1L696.6 250.3L697.3 250.6L698.1 250.9L698.9 251.2L699.6 251.5L700.4 251.8L701.2 252.1L702.0 252.4L702.7 252.7L703.5 253.0L704.3 253.3L705.1 253.6L705.8 253.8L706.6 254.1L707.4 254.3L708.2 254.5L709.0 254.6L709.8 254.7L710.6 254.9L711.4 255.0L712.2 255.1L713.0 255.2L713.8 255.3L714.6 255.4L715.5 255.5L716.3 255.5L717.1 255.6L717.9 255.7L718.7 255.8L719.6 255.8L720.4 255.9L721.2 256.0L722.0 256.0L722.9 256.1L723.7 256.2L724.5 256.2L725.3 256.3L726.2 256.4L727.0 256.4L727.8 256.5L728.6 256.6L729.5 256.6L730.3 256.7L731.1 256.8L731.9 256.9L732.7 257.0L733.6 257.1L734.4 257.1L735.2 257.2L736.0 257.3L736.9 257.4L737.7 257.5L738.5 257.6L739.3 257.7L740.2 257.7L741.0 257.8L741.8 258.0L742.6 258.1L743.4 258.2L744.2 258.3L745.0 258.5L745.9 258.7L746.8 258.9L747.8 259.2L748.8 259.4L749.7 259.8L750.4 260.2L750.9 260.6L751.0 261.0L751.0 261.8L751.0 262.7L751.0 263.6L750.9 264.2L750.5 264.7L749.8 265.1L748.8 265.4L747.9 265.7L747.0 266.0L746.2 266.3L745.4 266.5L744.6 266.7L743.8 266.9L743.0 267.0" fill="none" stroke="#22ee22" stroke-width="1.5" stroke-linejoin="round"/>
<path d="M450.0 263.0L452.7 267.0L450.0 271.0L447.3 267.0ZM450.2 262.8L452.9 266.8L450.2 270.8L447.5 266.8ZM450.5 262.6L453.2 266.6L450.5 270.6L447.8 266.6ZM450.7 262.5L453.4 266.5L450.7 270.5L448.0 266.5ZM451.0 262.3L453.7 266.3L451.0 270.3L448.3 266.3ZM451.3 262.0L454.0 266.0L451.3 270.0L448.6 266.0ZM451.7 261.8L454.4 265.8L451.7 269.8L449.0 265.8ZM452.1 261.5L454.8 265.5L452.1 269.5L449.4 265.5ZM452.5 261.2L455.2 265.2L452.5 269.2L449.8 265.2ZM453.0 260.9L455.7 264.9L453.0 268.9L450.3 264.9ZM453.5 260.5L456.2 264.5L453.5 268.5L450.8 264.5ZM454.1 260.0L456.8 264.0L454.1 268.0L451.4 264.0ZM454.8 259.6L457.5 263.6L454.8 267.6L452.1 263.6ZM455.6 259.0L458.3 263.0L455.6 267.0L452.9 263.0ZM456.4 258.4L459.1 262.4L456.4 266.4L453.7 262.4ZM457.4 257.8L460.1 261.8L457.4 265.8L454.7 261.8ZM458.4 257.0L461.1 261.0L458.4 265.0L455.7 261.0ZM459.6 256.2L462.3 260.2L459.6 264.2L456.9 260.2ZM461.0 255.3L463.7 259.3L461.0 263.3L458.3 259.3ZM462.5 254.3L465.2 258.3L462.5 262.3L459.8 258.3ZM464.2 253.2L466.9 257.2L464.2 261.2L461.5 257.2ZM466.1 252.0L468.8 256.0L466.1 260.0L463.4 256.0ZM468.2 250.6L470.9 254.6L468.2 258.6L465.5 254.6ZM470.5 249.2L473.2 253.2L470.5 257.2L467.8 253.2ZM473.2 247.6L475.9 251.6L473.2 255.6L470.5 251.6ZM476.3 246.0L479.0 250.0L476.3 254.0L473.6 250.0ZM479.7 244.4L482.4 248.4L479.7 252.4L477.0 248.4ZM483.6 242.6L486.3 246.6L483.6 250.6L480.9 246.6ZM487.9 240.6L490.6 244.6L487.9 248.6L485.2 244.6ZM492.7 238.6L495.4 242.6L492.7 246.6L490.0 242.6ZM498.0 236.4L500.7 240.4L498.0 244.4L495.3 240.4ZM503.9 234.1L506.6 238.1L503.9 242.1L501.2 238.1ZM510.3 231.6L513.0 235.6L510.3 239.6L507.6 235.6ZM517.4 229.2L520.1 233.2L517.4 237.2L514.7 233.2ZM525.2 226.6L527.9 230.6L525.2 234.6L522.5 230.6ZM533.6 224.1L536.3 228.1L533.6 232.1L530.9 228.1ZM542.6 222.0L545.3 226.0L542.6 230.0L539.9 226.0ZM552.4 220.2L555.1 224.2L552.4 228.2L549.7 224.2ZM562.6 219.0L565.3 223.0L562.6 227.0L559.9 223.0ZM573.3 218.6L576.0 222.6L573.3 226.6L570.6 222.6ZM584.2 218.3L586.9 222.3L584.2 226.3L581.5 222.3ZM595.2 218.4L597.9 222.4L595.2 226.4L592.5 222.4ZM606.2 218.7L608.9 222.7L606.2 226.7L603.5 222.7ZM617.2 219.4L619.9 223.4L617.2 227.4L614.5 223.4ZM628.0 221.1L630.7 225.1L628.0 229.1L625.3 225.1ZM638.6 224.1L641.3 228.1L638.6 232.1L635.9 228.1ZM649.1 227.9L651.8 231.9L649.1 235.9L646.4 231.9ZM658.2 231.4L660.9 235.4L658.2 239.4L655.5 235.4ZM666.0 234.0L668.7 238.0L666.0 242.0L663.3 238.0ZM673.0 237.4L675.7 241.4L673.0 245.4L670.3 241.4ZM679.1 240.1L681.8 244.1L679.1 248.1L676.4 244.1ZM684.4 241.4L687.1 245.4L684.4 249.4L681.7 245.4ZM689.1 243.8L691.8 247.8L689.1 251.8L686.4 247.8ZM693.3 245.2L696.0 249.2L693.3 253.2L690.6 249.2ZM696.9 246.5L699.6 250.5L696.9 254.5L694.2 250.5ZM700.0 247.5L702.7 251.5L700.0 255.5L697.3 251.5ZM702.9 249.1L705.6 253.1L702.9 257.1L700.2 253.1ZM705.7 250.8L708.4 254.8L705.7 258.8L703.0 254.8ZM708.6 249.8L711.3 253.8L708.6 257.8L705.9 253.8ZM711.5 251.8L714.2 255.8L711.5 259.8L708.8 255.8ZM714.4 251.5L717.1 255.5L714.4 259.5L711.7 255.5ZM717.4 252.0L720.1 256.0L717.4 260.0L714.7 256.0ZM720.4 251.0L723.1 255.0L720.4 259.0L717.7 255.0ZM723.4 252.3L726.1 256.3L723.4 260.3L720.7 256.3ZM726.4 253.6L729.1 257.6L726.4 261.6L723.7 257.6ZM729.4 251.8L732.1 255.8L729.4 259.8L726.7 255.8ZM732.4 251.4L735.1 255.4L732.4 259.4L729.7 255.4ZM735.4 251.9L738.1 255.9L735.4 259.9L732.7 255.9ZM738.4 253.8L741.1 257.8L738.4 261.8L735.7 257.8ZM741.4 255.8L744.1 259.8L741.4 263.8L738.7 259.8ZM744.4 255.3L747.1 259.3L744.4 263.3L741.7 259.3ZM747.7 256.4L750.4 260.4L747.7 264.4L745.0 260.4ZM750.7 256.4L753.4 260.4L750.7 264.4L748.0 260.4ZM751.0 260.0L753.7 264.0L751.0 268.0L748.3 264.0ZM749.9 260.8L752.6 264.8L749.9 268.8L747.2 264.8ZM746.7 262.6L749.4 266.6L746.7 270.6L744.0 266.6ZM743.8 262.7L746.5 266.7L743.8 270.7L741.1 266.7Z" fill="none" stroke="#22ee22" stroke-width="1.0"/>
<path d="M452.0 264.5L452.7 264.0L453.4 263.5L454.0 263.0L454.7 262.4L455.4 261.9L456.1 261.4L456.8 260.9L457.5 260.4L458.1 259.9L458.8 259.4L459.5 258.9L460.2 258.4L460.9 257.8L461.6 257.3L462.2 256.8L462.9 256.3L463.6 255.8L464.3 255.3L464.9 254.7L465.6 254.2L466.3 253.7L467.0 253.2L467.7 252.6L468.3 252.1L469.0 251.6L469.7 251.1L470.4 250.6L471.1 250.1L471.8 249.6L472.5 249.1L473.2 248.7L473.9 248.2L474.6 247.8L475.4 247.4L476.1 247.0L476.8 246.6L477.6 246.1L478.3 245.7L479.1 245.3L479.8 245.0L480.6 244.6L481.4 244.2L482.1 243.8L482.9 243.4L483.7 243.1L484.4 242.7L485.2 242.3L486.0 242.0L486.8 241.6L487.5 241.2L488.3 240.9L489.1 240.5L489.9 240.1L490.6 239.8L491.4 239.4L492.2 239.1L493.0 238.7L493.8 238.3L494.5 238.0L495.3 237.6L496.1 237.2L496.8 236.9L497.6 236.5L498.4 236.1L499.1 235.7L499.9 235.3L500.7 234.9L501.4 234.5L502.2 234.1L502.9 233.7L503.7 233.3L504.4 232.9L505.2 232.5L506.0 232.1L506.7 231.7L507.5 231.3L508.2 230.9L509.0 230.5L509.8 230.2L510.5 229.8L511.3 229.5L512.1 229.1L512.9 228.8L513.7 228.5L514.4 228.2L515.2 227.9L516.0 227.6L516.8 227.4L517.6 227.1L518.4 226.9L519.3 226.6L520.1 226.4L520.9 226.2L521.7 225.9L522.5 225.7L523.4 225.5L524.2 225.3L525.0 225.0L525.8 224.8L526.7 224.6L527.5 224.4L528.3 224.2L529.2 224.0L530.0 223.8L530.8 223.6L531.7 223.4L532.5 223.3L533.4 223.1L534.2 222.9L535.0 222.7L535.9 222.5L536.7 222.3L537.5 222.2L538.4 222.0L539.2 221.8L540.0 221.6L540.9 221.5L541.7 221.3L542.6 221.1L543.4 221.0L544.2 220.8L545.1 220.6L545.9 220.4L546.7 220.3L547.6 220.1L548.4 219.9L549.2 219.8L550.1 219.6L550.9 219.5L551.8 219.3L552.6 219.2L553.4 219.0L554.3 218.9L555.1 218.7L556.0 218.6L556.8 218.4L557.7 218.3L558.5 218.2L559.3 218.1L560.2 217.9L561.0 217.8L561.9 217.7L562.7 217.6L563.6 217.5L564.4 217.4L565.3 217.3L566.1 217.2L566.9 217.1L567.8 217.0L568.6 216.9L569.5 216.8L570.3 216.7L571.2 216.5L572.0 216.4L572.9 216.3L573.7 216.2L574.6 216.2L575.4 216.1L576.3 216.0L577.1 215.9L578.0 215.8L578.8 215.7L579.7 215.7L580.5 215.6L581.4 215.5L582.2 215.5L583.1 215.4L583.9 215.4L584.8 215.4L585.6 215.3L586.5 215.3L587.3 215.3L588.2 215.3L589.0 215.3L589.9 215.3L590.8 215.3L591.6 215.3L592.5 215.3L593.3 215.3L594.2 215.3L595.0 215.3L595.9 215.4L596.7 215.4L597.6 215.4L598.4 215.4L599.3 215.4L600.1 215.4L601.0 215.5L601.9 215.5L602.7 215.5L603.6 215.5L604.4 215.5L605.3 215.6L606.1 215.6L607.0 215.6L607.8 215.6L608.7 215.7L609.5 215.7L610.4 215.7L611.2 215.8L612.1 215.8L612.9 215.8L613.8 215.9L614.6 216.0L615.5 216.1L616.3 216.2L617.2 216.3L618.0 216.5L618.8 216.6L619.7 216.7L620.5 216.9L621.4 217.0L622.2 217.2L623.1 217.3L623.9 217.5L624.7 217.6L625.6 217.8L626.4 217.9L627.3 218.1L628.1 218.2L628.9 218.4L629.8 218.5L630.6 218.7L631.5 218.9L632.3 219.0L633.1 219.2L634.0 219.4L634.8 219.6L635.6 219.8L636.5 219.9L637.3 220.1L638.1 220.3L639.0 220.5L639.8 220.7L640.6 220.9L641.5 221.1L642.3 221.3L643.1 221.5L643.9 221.7L644.8 222.0L645.6 222.2L646.4 222.4L647.2 222.6L648.0 222.9L648.9 223.1L649.7 223.3L650.5 223.6L651.3 223.9L652.1 224.1L652.9 224.4L653.7 224.7L654.5 225.0L655.3 225.3L656.0 225.6L656.8 226.0L657.6 226.3L658.4 226.6L659.2 227.0L660.0 227.3L660.8 227.6L661.6 228.0L662.3 228.3L663.1 228.7L663.9 229.0L664.7 229.4L665.5 229.7L666.3 230.0L667.0 230.4L667.8 230.7L668.6 231.1L669.4 231.4L670.2 231.7L671.0 232.1L671.8 232.4L672.6 232.7L673.4 233.0L674.2 233.3L675.0 233.6L675.8 233.9L676.5 234.2L677.3 234.5L678.1 234.9L678.9 235.2L679.7 235.5L680.5 235.8L681.3 236.1L682.1 236.4L682.9 236.7L683.7 237.0L684.5 237.3L685.3 237.6L686.1 237.9L686.9 238.3L687.7 238.6L688.4 238.9L689.2 239.3L690.0 239.6L690.8 240.0L691.6 240.3L692.4 240.6L693.2 241.0L693.9 241.3L694.7 241.6L695.5 241.9L696.3 242.2L697.1 242.5L697.9 242.8L698.7 243.1L699.5 243.4L700.3 243.7L701.1 244.0L701.9 244.3L702.7 244.6L703.5 244.9L704.3 245.2L705.1 245.4L706.0 245.7L706.8 246.0L707.6 246.2L708.4 246.4L709.2 246.7L710.0 246.9L710.9 247.1L711.7 247.3L712.5 247.6L713.3 247.8L714.2 248.0L715.0 248.2L715.8 248.4L716.7 248.6L717.5 248.8L718.4 248.9L719.2 249.1L720.0 249.2L720.9 249.3L721.7 249.3L722.6 249.4L723.4 249.4L724.3 249.5L725.1 249.5L726.0 249.6L726.8 249.6L727.7 249.6L728.5 249.7L729.4 249.7L730.2 249.7L731.1 249.7L732.0 249.8L732.8 249.8L733.7 249.8L734.5 249.8L735.4 249.8L736.2 249.9L737.1 249.9L737.9 249.9L738.8 249.9L739.6 249.9L740.5 249.9L741.3 249.9L742.2 249.9L743.0 249.9L743.9 250.0L744.7 250.0L745.6 250.0L746.5 250.0L747.3 250.1L748.2 250.1L749.0 250.2L749.9 250.2L750.7 250.3L751.6 250.4L752.4 250.5L753.3 250.6L754.1 250.7L755.0 250.8L755.8 250.9L756.6 251.0L757.5 251.2L758.3 251.3L759.2 251.4L760.0 251.6L760.8 251.8L761.7 251.9L762.5 252.2L763.3 252.4L764.2 252.6L765.0 252.8L765.8 253.1L766.6 253.4L767.4 253.6L768.2 253.9L769.0 254.2L769.8 254.5L770.6 254.9L771.4 255.2L772.1 255.6L772.8 256.1L773.6 256.5L774.3 257.0" fill="none" stroke="#ff1a1a" stroke-width="1.5" stroke-linejoin="round"/>
<path d="M452.0 260.5L454.7 264.5L452.0 268.5L449.3 264.5ZM452.2 260.3L454.9 264.3L452.2 268.3L449.5 264.3ZM452.5 260.1L455.2 264.1L452.5 268.1L449.8 264.1ZM452.7 260.0L455.4 264.0L452.7 268.0L450.0 264.0ZM453.0 259.7L455.7 263.7L453.0 267.7L450.3 263.7ZM453.3 259.5L456.0 263.5L453.3 267.5L450.6 263.5ZM453.7 259.3L456.4 263.3L453.7 267.3L451.0 263.3ZM454.0 259.0L456.7 263.0L454.0 267.0L451.3 263.0ZM454.5 258.6L457.2 262.6L454.5 266.6L451.8 262.6ZM455.0 258.3L457.7 262.3L455.0 266.3L452.3 262.3ZM455.5 257.9L458.2 261.9L455.5 265.9L452.8 261.9ZM456.1 257.4L458.8 261.4L456.1 265.4L453.4 261.4ZM456.8 256.9L459.5 260.9L456.8 264.9L454.1 260.9ZM457.5 256.3L460.2 260.3L457.5 264.3L454.8 260.3ZM458.4 255.7L461.1 259.7L458.4 263.7L455.7 259.7ZM459.3 255.0L462.0 259.0L459.3 263.0L456.6 259.0ZM460.4 254.2L463.1 258.2L460.4 262.2L457.7 258.2ZM461.6 253.3L464.3 257.3L461.6 261.3L458.9 257.3ZM462.9 252.3L465.6 256.3L462.9 260.3L460.2 256.3ZM464.3 251.2L467.0 255.2L464.3 259.2L461.6 255.2ZM466.0 249.9L468.7 253.9L466.0 257.9L463.3 253.9ZM467.8 248.5L470.5 252.5L467.8 256.5L465.1 252.5ZM469.9 247.0L472.6 251.0L469.9 255.0L467.2 251.0ZM472.2 245.3L474.9 249.3L472.2 253.3L469.5 249.3ZM474.9 243.7L477.6 247.7L474.9 251.7L472.2 247.7ZM477.9 242.0L480.6 246.0L477.9 250.0L475.2 246.0ZM481.5 240.1L484.2 244.1L481.5 248.1L478.8 244.1ZM485.4 238.2L488.1 242.2L485.4 246.2L482.7 242.2ZM489.9 236.2L492.6 240.2L489.9 244.2L487.2 240.2ZM494.8 233.9L497.5 237.9L494.8 241.9L492.1 237.9ZM500.1 231.2L502.8 235.2L500.1 239.2L497.4 235.2ZM506.0 228.1L508.7 232.1L506.0 236.1L503.3 232.1ZM512.4 225.0L515.1 229.0L512.4 233.0L509.7 229.0ZM519.8 222.5L522.5 226.5L519.8 230.5L517.1 226.5ZM528.1 220.3L530.8 224.3L528.1 228.3L525.4 224.3ZM537.1 218.3L539.8 222.3L537.1 226.3L534.4 222.3ZM546.8 216.3L549.5 220.3L546.8 224.3L544.1 220.3ZM557.2 214.4L559.9 218.4L557.2 222.4L554.5 218.4ZM568.1 212.9L570.8 216.9L568.1 220.9L565.4 216.9ZM579.5 211.7L582.2 215.7L579.5 219.7L576.8 215.7ZM591.3 211.3L594.0 215.3L591.3 219.3L588.6 215.3ZM603.3 211.5L606.0 215.5L603.3 219.5L600.6 215.5ZM615.3 212.1L618.0 216.1L615.3 220.1L612.6 216.1ZM627.1 214.1L629.8 218.1L627.1 222.1L624.4 218.1ZM638.9 216.5L641.6 220.5L638.9 224.5L636.2 220.5ZM650.5 219.6L653.2 223.6L650.5 227.6L647.8 223.6ZM661.5 223.6L664.2 227.6L661.5 231.6L658.8 227.6ZM670.9 228.2L673.6 232.2L670.9 236.2L668.2 232.2ZM679.0 231.7L681.7 235.7L679.0 239.7L676.3 235.7ZM685.9 234.4L688.6 238.4L685.9 242.4L683.2 238.4ZM691.8 237.5L694.5 241.5L691.8 245.5L689.1 241.5ZM696.8 238.4L699.5 242.4L696.8 246.4L694.1 242.4ZM701.2 239.8L703.9 243.8L701.2 247.8L698.5 243.8ZM705.0 241.5L707.7 245.5L705.0 249.5L702.3 245.5ZM708.3 242.0L711.0 246.0L708.3 250.0L705.6 246.0ZM711.5 245.0L714.2 249.0L711.5 253.0L708.8 249.0ZM714.9 245.1L717.6 249.1L714.9 253.1L712.2 249.1ZM718.2 243.4L720.9 247.4L718.2 251.4L715.5 247.4ZM721.5 245.2L724.2 249.2L721.5 253.2L718.8 249.2ZM724.9 245.9L727.6 249.9L724.9 253.9L722.2 249.9ZM728.3 244.2L731.0 248.2L728.3 252.2L725.6 248.2ZM731.7 246.8L734.4 250.8L731.7 254.8L729.0 250.8ZM735.1 245.5L737.8 249.5L735.1 253.5L732.4 249.5ZM738.5 245.0L741.2 249.0L738.5 253.0L735.8 249.0ZM741.9 245.7L744.6 249.7L741.9 253.7L739.2 249.7ZM745.3 245.2L748.0 249.2L745.3 253.2L742.6 249.2ZM748.7 247.0L751.4 251.0L748.7 255.0L746.0 251.0ZM752.1 246.9L754.8 250.9L752.1 254.9L749.4 250.9ZM755.5 246.5L758.2 250.5L755.5 254.5L752.8 250.5ZM758.9 246.7L761.6 250.7L758.9 254.7L756.2 250.7ZM762.2 248.2L764.9 252.2L762.2 256.2L759.5 252.2ZM765.5 248.0L768.2 252.0L765.5 256.0L762.8 252.0ZM768.7 250.2L771.4 254.2L768.7 258.2L766.0 254.2ZM771.8 250.9L774.5 254.9L771.8 258.9L769.1 254.9ZM774.3 253.0L777.0 257.0L774.3 261.0L771.6 257.0Z" fill="none" stroke="#ff1a1a" stroke-width="1.0"/>
<path d="M449.0 268.0L449.4 267.6L449.9 267.2L450.3 266.8L450.8 266.4L451.2 266.0L451.7 265.6L452.2 265.2L452.6 264.8L453.1 264.4L453.5 264.0L454.0 263.6L454.5 263.2L454.9 262.9L455.4 262.5L455.9 262.1L456.3 261.8L456.8 261.4L457.3 261.0L457.8 260.7L458.3 260.3L458.7 259.9L459.2 259.6L459.7 259.2L460.2 258.9L460.7 258.5L461.2 258.2L461.7 257.8L462.2 257.5L462.7 257.1L463.2 256.8L463.7 256.4L464.2 256.1L464.7 255.7L465.2 255.4L465.7 255.0L466.2 254.7L466.7 254.4L467.2 254.1L467.7 253.7L468.2 253.4L468.7 253.1L469.3 252.8L469.8 252.5L470.3 252.2L470.8 251.9L471.3 251.6L471.9 251.3L472.4 251.1L472.9 250.8L473.5 250.5L474.0 250.3L474.5 250.0L475.1 249.8L475.6 249.5L476.1 249.3L476.7 249.0L477.2 248.8L477.8 248.6L478.3 248.3L478.9 248.1L479.5 247.9L480.0 247.6L480.6 247.4L481.1 247.2L481.7 247.0L482.3 246.8L482.8 246.6L483.4 246.4L484.0 246.1L484.5 245.9L485.1 245.7L485.7 245.5L486.2 245.3L486.8 245.1L487.4 244.9L488.0 244.7L488.5 244.5L489.1 244.4L489.7 244.2L490.3 244.0L490.8 243.8L491.4 243.6L492.0 243.4L492.6 243.2L493.1 243.0L493.7 242.8L494.3 242.6L494.9 242.5L495.4 242.3L496.0 242.1L496.6 241.9L497.2 241.7L497.7 241.5L498.3 241.3L498.9 241.1L499.5 241.0L500.0 240.8L500.6 240.6L501.2 240.4L501.7 240.2L502.3 240.0L502.9 239.9L503.5 239.7L504.0 239.5L504.6 239.3L505.2 239.1L505.8 239.0L506.4 238.8L506.9 238.6L507.5 238.4L508.1 238.3L508.7 238.1L509.2 237.9L509.8 237.8L510.4 237.6L511.0 237.4L511.6 237.3L512.1 237.1L512.7 237.0L513.3 236.8L513.9 236.7L514.5 236.5L515.1 236.4L515.6 236.2L516.2 236.1L516.8 236.0L517.4 235.8L518.0 235.7L518.6 235.5L519.2 235.4L519.7 235.2L520.3 235.1L520.9 234.9L521.5 234.8L522.1 234.6L522.7 234.5L523.3 234.4L523.9 234.2L524.4 234.1L525.0 233.9L525.6 233.8L526.2 233.7L526.8 233.5L527.4 233.4L528.0 233.3L528.6 233.1L529.2 233.0L529.8 232.9L530.3 232.8L530.9 232.7L531.5 232.6L532.1 232.4L532.7 232.3L533.3 232.2L533.9 232.1L534.5 232.1L535.1 232.0L535.7 231.9L536.3 231.8L536.9 231.7L537.5 231.7L538.1 231.6L538.7 231.6L539.3 231.5L539.9 231.5L540.5 231.4L541.1 231.4L541.7 231.3L542.3 231.3L542.9 231.2L543.5 231.2L544.1 231.1L544.7 231.1L545.3 231.0L545.9 231.0L546.5 231.0L547.1 230.9L547.7 230.9L548.3 230.8L548.9 230.8L549.5 230.8L550.1 230.7L550.7 230.7L551.3 230.7L551.9 230.6L552.5 230.6L553.1 230.6L553.7 230.5L554.3 230.5L554.9 230.5L555.5 230.5L556.1 230.4L556.7 230.4L557.3 230.4L557.9 230.4L558.5 230.4L559.1 230.4L559.7 230.3L560.3 230.3L560.9 230.3L561.5 230.3L562.1 230.3L562.7 230.3L563.3 230.3L563.9 230.3L564.5 230.3L565.1 230.3L565.7 230.4L566.3 230.4L566.9 230.5L567.5 230.5L568.1 230.6L568.7 230.7L569.3 230.8L569.9 230.9L570.5 231.0L571.1 231.1L571.7 231.2L572.2 231.4L572.8 231.5L573.4 231.7L574.0 231.8L574.6 232.0L575.2 232.1L575.8 232.3L576.4 232.5L577.0 232.6L577.6 232.8L578.2 233.0L578.7 233.2L579.3 233.4L579.9 233.6L580.5 233.8L581.1 234.0L581.6 234.2L582.2 234.4L582.8 234.6L583.4 234.8L583.9 235.0L584.5 235.2L585.1 235.4L585.6 235.6L586.2 235.8L586.8 236.0L587.3 236.2L587.9 236.4L588.4 236.6L589.0 236.8L589.5 237.0L590.1 237.2L590.6 237.4L591.2 237.6L591.7 237.9L592.3 238.1L592.8 238.4L593.3 238.6L593.9 238.9L594.4 239.2L594.9 239.4L595.5 239.7L596.0 240.0L596.5 240.3L597.1 240.6L597.6 240.9L598.1 241.2L598.6 241.5L599.2 241.8L599.7 242.1L600.2 242.4L600.7 242.7L601.2 243.1L601.8 243.4L602.3 243.7L602.8 244.0L603.3 244.3L603.8 244.7L604.3 245.0L604.9 245.3L605.4 245.7L605.9 246.0L606.4 246.3L606.9 246.6L607.4 247.0L608.0 247.3L608.5 247.6L609.0 247.9L609.5 248.3L610.0 248.6L610.5 248.9L611.0 249.2L611.6 249.5L612.1 249.8L612.6 250.2L613.1 250.5L613.6 250.8L614.1 251.2L614.6 251.6L615.1 251.9L615.6 252.3L616.1 252.7L616.6 253.0L617.1 253.4L617.6 253.8L618.1 254.2L618.6 254.5L619.1 254.9L619.6 255.2L620.1 255.5L620.6 255.9L621.1 256.2L621.6 256.5L622.1 256.7L622.6 257.0L623.2 257.2L623.7 257.4L624.3 257.6L624.8 257.8L625.4 257.9L625.9 258.1L626.5 258.3L627.1 258.4L627.7 258.6L628.3 258.7L628.9 258.9L629.4 259.0L630.0 259.2L630.6 259.3L631.2 259.4L631.9 259.5L632.5 259.6L633.1 259.7L633.7 259.8L634.3 259.9L634.9 259.9L635.5 260.0L636.1 260.0L636.7 260.0L637.3 260.1L637.9 260.1L638.5 260.1L639.1 260.1L639.7 260.1L640.3 260.1L640.9 260.2L641.5 260.2L642.1 260.2L642.7 260.2L643.3 260.2L643.9 260.2L644.5 260.2L645.1 260.2L645.7 260.3L646.3 260.3L646.9 260.3L647.5 260.3L648.1 260.3L648.7 260.3L649.3 260.3L649.9 260.3L650.5 260.3L651.1 260.4L651.7 260.4L652.3 260.4L652.9 260.4L653.5 260.4L654.1 260.4L654.7 260.4L655.3 260.4L655.9 260.4L656.5 260.5L657.1 260.5L657.7 260.5L658.3 260.5L658.9 260.5L659.5 260.5L660.1 260.5L660.8 260.5L661.4 260.5L662.0 260.5L662.6 260.5L663.2 260.5L663.8 260.5L664.4 260.5L665.0 260.5L665.6 260.5L666.2 260.5L666.8 260.5L667.4 260.5L668.0 260.5L668.6 260.5L669.2 260.5L669.8 260.5L670.4 260.5L671.0 260.5L671.6 260.5L672.2 260.5L672.8 260.5L673.4 260.5L674.0 260.5" fill="none" stroke="#117a43" stroke-width="1.5" stroke-linejoin="round"/>
<path d="M449.0 264.0L451.7 268.0L449.0 272.0L446.3 268.0ZM449.2 263.8L451.9 267.8L449.2 271.8L446.5 267.8ZM449.5 263.6L452.2 267.6L449.5 271.6L446.8 267.6ZM449.7 263.3L452.4 267.3L449.7 271.3L447.0 267.3ZM450.0 263.1L452.7 267.1L450.0 271.1L447.3 267.1ZM450.4 262.8L453.1 266.8L450.4 270.8L447.7 266.8ZM450.7 262.4L453.4 266.4L450.7 270.4L448.0 266.4ZM451.2 262.0L453.9 266.0L451.2 270.0L448.5 266.0ZM451.7 261.6L454.4 265.6L451.7 269.6L449.0 265.6ZM452.2 261.1L454.9 265.1L452.2 269.1L449.5 265.1ZM452.9 260.6L455.6 264.6L452.9 268.6L450.2 264.6ZM453.6 259.9L456.3 263.9L453.6 267.9L450.9 263.9ZM454.5 259.2L457.2 263.2L454.5 267.2L451.8 263.2ZM455.4 258.5L458.1 262.5L455.4 266.5L452.7 262.5ZM456.6 257.6L459.3 261.6L456.6 265.6L453.9 261.6ZM457.8 256.6L460.5 260.6L457.8 264.6L455.1 260.6ZM459.3 255.6L462.0 259.6L459.3 263.6L456.6 259.6ZM460.9 254.3L463.6 258.3L460.9 262.3L458.2 258.3ZM462.8 253.0L465.5 257.0L462.8 261.0L460.1 257.0ZM465.0 251.5L467.7 255.5L465.0 259.5L462.3 255.5ZM467.5 249.9L470.2 253.9L467.5 257.9L464.8 253.9ZM470.4 248.1L473.1 252.1L470.4 256.1L467.7 252.1ZM473.7 246.4L476.4 250.4L473.7 254.4L471.0 250.4ZM477.5 244.7L480.2 248.7L477.5 252.7L474.8 248.7ZM481.9 242.9L484.6 246.9L481.9 250.9L479.2 246.9ZM486.9 241.1L489.6 245.1L486.9 249.1L484.2 245.1ZM492.5 239.2L495.2 243.2L492.5 247.2L489.8 243.2ZM498.7 237.2L501.4 241.2L498.7 245.2L496.0 241.2ZM505.5 235.0L508.2 239.0L505.5 243.0L502.8 239.0ZM513.0 232.9L515.7 236.9L513.0 240.9L510.3 236.9ZM521.2 230.9L523.9 234.9L521.2 238.9L518.5 234.9ZM530.0 228.9L532.7 232.9L530.0 236.9L527.3 232.9ZM539.3 227.5L542.0 231.5L539.3 235.5L536.6 231.5ZM549.0 226.8L551.7 230.8L549.0 234.8L546.3 230.8ZM559.0 226.4L561.7 230.4L559.0 234.4L556.3 230.4ZM568.9 226.7L571.6 230.7L568.9 234.7L566.2 230.7ZM578.8 229.2L581.5 233.2L578.8 237.2L576.1 233.2ZM588.2 232.5L590.9 236.5L588.2 240.5L585.5 236.5ZM596.7 236.0L599.4 240.0L596.7 244.0L594.0 240.0ZM603.7 240.7L606.4 244.7L603.7 248.7L601.0 244.7ZM609.4 243.7L612.1 247.7L609.4 251.7L606.7 247.7ZM614.3 247.4L617.0 251.4L614.3 255.4L611.6 251.4ZM618.3 250.7L621.0 254.7L618.3 258.7L615.6 254.7ZM621.7 253.8L624.4 257.8L621.7 261.8L619.0 257.8ZM624.8 254.5L627.5 258.5L624.8 262.5L622.1 258.5ZM627.6 254.0L630.3 258.0L627.6 262.0L624.9 258.0ZM630.0 257.0L632.7 261.0L630.0 265.0L627.3 261.0ZM632.1 255.0L634.8 259.0L632.1 263.0L629.4 259.0ZM633.9 257.7L636.6 261.7L633.9 265.7L631.2 261.7ZM635.7 256.3L638.4 260.3L635.7 264.3L633.0 260.3ZM637.5 256.7L640.2 260.7L637.5 264.7L634.8 260.7ZM639.3 257.4L642.0 261.4L639.3 265.4L636.6 261.4ZM641.1 255.7L643.8 259.7L641.1 263.7L638.4 259.7ZM642.9 255.2L645.6 259.2L642.9 263.2L640.2 259.2ZM644.7 255.9L647.4 259.9L644.7 263.9L642.0 259.9ZM646.5 255.2L649.2 259.2L646.5 263.2L643.8 259.2ZM648.3 254.0L651.0 258.0L648.3 262.0L645.6 258.0ZM650.1 257.4L652.8 261.4L650.1 265.4L647.4 261.4ZM651.9 258.0L654.6 262.0L651.9 266.0L649.2 262.0ZM653.7 257.1L656.4 261.1L653.7 265.1L651.0 261.1ZM655.5 255.7L658.2 259.7L655.5 263.7L652.8 259.7ZM657.3 255.8L660.0 259.8L657.3 263.8L654.6 259.8ZM659.1 258.2L661.8 262.2L659.1 266.2L656.4 262.2ZM660.9 258.4L663.6 262.4L660.9 266.4L658.2 262.4ZM662.7 256.6L665.4 260.6L662.7 264.6L660.0 260.6ZM664.5 258.6L667.2 262.6L664.5 266.6L661.8 262.6ZM666.3 256.0L669.0 260.0L666.3 264.0L663.6 260.0ZM668.1 256.5L670.8 260.5L668.1 264.5L665.4 260.5ZM669.9 255.4L672.6 259.4L669.9 263.4L667.2 259.4ZM671.7 254.5L674.4 258.5L671.7 262.5L669.0 258.5ZM673.5 256.0L676.2 260.0L673.5 264.0L670.8 260.0Z" fill="none" stroke="#117a43" stroke-width="1.0"/>
<path d="M673.8 23.6H697.1" stroke="#22ee22" stroke-width="1.3" fill="none"/>
<path d="M685.6 19.6L688.4 23.6L685.6 27.6L682.8 23.6Z" fill="none" stroke="#22ee22" stroke-width="0.9"/>
<text x="700.6" y="28" font-size="12.8" fill="#222">Sample1</text>
<path d="M673.8 40.6H697.1" stroke="#ff1a1a" stroke-width="1.3" fill="none"/>
<path d="M685.6 36.6L688.4 40.6L685.6 44.6L682.8 40.6Z" fill="none" stroke="#ff1a1a" stroke-width="0.9"/>
<text x="700.6" y="45" font-size="12.8" fill="#222">Sample2</text>
<path d="M673.8 57.6H697.1" stroke="#ffa61a" stroke-width="1.3" fill="none"/>
<path d="M685.6 53.6L688.4 57.6L685.6 61.6L682.8 57.6Z" fill="none" stroke="#ffa61a" stroke-width="0.9"/>
<text x="700.6" y="62" font-size="12.8" fill="#222">Sample3</text>
<path d="M673.8 74.6H697.1" stroke="#111111" stroke-width="1.3" fill="none"/>
<path d="M685.6 70.6L688.4 74.6L685.6 78.6L682.8 74.6Z" fill="none" stroke="#111111" stroke-width="0.9"/>
<text x="700.6" y="79" font-size="12.8" fill="#222">Sample4</text>
<path d="M673.8 91.6H697.1" stroke="#b58cf2" stroke-width="1.3" fill="none"/>
<path d="M685.6 87.6L688.4 91.6L685.6 95.6L682.8 91.6Z" fill="none" stroke="#b58cf2" stroke-width="0.9"/>
<text x="700.6" y="96" font-size="12.8" fill="#222">Sample5</text>
<path d="M673.8 108.6H697.1" stroke="#1aa7ff" stroke-width="1.3" fill="none"/>
<path d="M685.6 104.6L688.4 108.6L685.6 112.6L682.8 108.6Z" fill="none" stroke="#1aa7ff" stroke-width="0.9"/>
<text x="700.6" y="113" font-size="12.8" fill="#222">Sample6</text>
<path d="M673.8 125.6H697.1" stroke="#117a43" stroke-width="1.3" fill="none"/>
<path d="M685.6 121.6L688.4 125.6L685.6 129.6L682.8 125.6Z" fill="none" stroke="#117a43" stroke-width="0.9"/>
<text x="700.6" y="130" font-size="12.8" fill="#222">Sample7</text>
</g>
</svg>
</body></html>
